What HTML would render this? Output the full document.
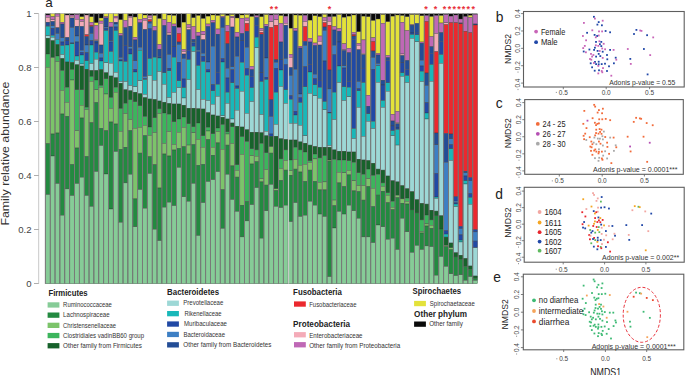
<!DOCTYPE html><html><head><meta charset="utf-8"><style>html,body{margin:0;padding:0;background:#fff;overflow:hidden;width:685px;height:375px;}svg{display:block;}text{font-family:"Liberation Sans",sans-serif;}</style></head><body>
<svg width="685" height="375" viewBox="0 0 685 375">
<rect x="0" y="0" width="685" height="375" fill="#fff"/>
<text x="45.3" y="7.2" font-size="13.5" fill="#222">a</text>
<text transform="translate(9.0,153.6) rotate(-90)" text-anchor="middle" font-size="11" fill="#333" textLength="144" lengthAdjust="spacingAndGlyphs">Family relative abundance</text>
<line x1="38.7" y1="13.8" x2="38.7" y2="283.7" stroke="#c8c8c8" stroke-width="1"/>
<line x1="34" y1="13.50" x2="38.7" y2="13.50" stroke="#999" stroke-width="0.8"/>
<text x="31.6" y="16.90" text-anchor="end" font-size="9.6" fill="#444">1</text>
<line x1="34" y1="67.50" x2="38.7" y2="67.50" stroke="#999" stroke-width="0.8"/>
<text x="31.6" y="70.90" text-anchor="end" font-size="9.6" fill="#444">0.8</text>
<line x1="34" y1="121.50" x2="38.7" y2="121.50" stroke="#999" stroke-width="0.8"/>
<text x="31.6" y="124.90" text-anchor="end" font-size="9.6" fill="#444">0.6</text>
<line x1="34" y1="175.50" x2="38.7" y2="175.50" stroke="#999" stroke-width="0.8"/>
<text x="31.6" y="178.90" text-anchor="end" font-size="9.6" fill="#444">0.4</text>
<line x1="34" y1="229.50" x2="38.7" y2="229.50" stroke="#999" stroke-width="0.8"/>
<text x="31.6" y="232.90" text-anchor="end" font-size="9.6" fill="#444">0.2</text>
<line x1="34" y1="283.50" x2="38.7" y2="283.50" stroke="#999" stroke-width="0.8"/>
<text x="31.6" y="286.90" text-anchor="end" font-size="9.6" fill="#444">0</text>
<g stroke="#333" stroke-width="0.4" stroke-opacity="0.8">
<rect x="45.35" y="13.80" width="4.86" height="1.20" fill="#0a0a0a"/>
<rect x="45.35" y="15.00" width="4.86" height="2.40" fill="#bf68b6"/>
<rect x="45.35" y="17.40" width="4.86" height="4.80" fill="#f4abb8"/>
<rect x="45.35" y="22.20" width="4.86" height="3.00" fill="#234d96"/>
<rect x="45.35" y="25.20" width="4.86" height="1.00" fill="#2149a5"/>
<rect x="45.35" y="26.20" width="4.86" height="9.60" fill="#19b8b9"/>
<rect x="45.35" y="35.80" width="4.86" height="2.40" fill="#9dd8d6"/>
<rect x="45.35" y="38.20" width="4.86" height="15.80" fill="#17622b"/>
<rect x="45.35" y="54.00" width="4.86" height="13.20" fill="#3cb55c"/>
<rect x="45.35" y="67.20" width="4.86" height="76.50" fill="#7cc46a"/>
<rect x="45.35" y="143.70" width="4.86" height="50.90" fill="#238a40"/>
<rect x="45.35" y="194.60" width="4.86" height="89.20" fill="#86cc97"/>
<rect x="50.21" y="13.80" width="4.86" height="3.00" fill="#e3e23a"/>
<rect x="50.21" y="16.80" width="4.86" height="3.00" fill="#bf68b6"/>
<rect x="50.21" y="19.80" width="4.86" height="1.60" fill="#f4abb8"/>
<rect x="50.21" y="21.40" width="4.86" height="4.40" fill="#234d96"/>
<rect x="50.21" y="25.80" width="4.86" height="2.40" fill="#3d7fc4"/>
<rect x="50.21" y="28.20" width="4.86" height="7.20" fill="#2149a5"/>
<rect x="50.21" y="35.40" width="4.86" height="2.00" fill="#19b8b9"/>
<rect x="50.21" y="37.40" width="4.86" height="3.20" fill="#9dd8d6"/>
<rect x="50.21" y="40.60" width="4.86" height="17.00" fill="#17622b"/>
<rect x="50.21" y="57.60" width="4.86" height="76.40" fill="#7cc46a"/>
<rect x="50.21" y="134.00" width="4.86" height="22.00" fill="#238a40"/>
<rect x="50.21" y="156.00" width="4.86" height="127.80" fill="#86cc97"/>
<rect x="55.06" y="13.80" width="4.86" height="0.20" fill="#0a0a0a"/>
<rect x="55.06" y="14.00" width="4.86" height="2.20" fill="#bf68b6"/>
<rect x="55.06" y="16.20" width="4.86" height="11.60" fill="#f4abb8"/>
<rect x="55.06" y="27.80" width="4.86" height="5.80" fill="#234d96"/>
<rect x="55.06" y="33.60" width="4.86" height="5.80" fill="#3d7fc4"/>
<rect x="55.06" y="39.40" width="4.86" height="5.00" fill="#19b8b9"/>
<rect x="55.06" y="44.40" width="4.86" height="11.60" fill="#17622b"/>
<rect x="55.06" y="56.00" width="4.86" height="5.60" fill="#3cb55c"/>
<rect x="55.06" y="61.60" width="4.86" height="71.40" fill="#7cc46a"/>
<rect x="55.06" y="133.00" width="4.86" height="50.60" fill="#238a40"/>
<rect x="55.06" y="183.60" width="4.86" height="100.20" fill="#86cc97"/>
<rect x="59.92" y="13.80" width="4.86" height="8.40" fill="#e3e23a"/>
<rect x="59.92" y="22.20" width="4.86" height="1.80" fill="#bf68b6"/>
<rect x="59.92" y="24.00" width="4.86" height="13.80" fill="#234d96"/>
<rect x="59.92" y="37.80" width="4.86" height="4.20" fill="#3d7fc4"/>
<rect x="59.92" y="42.00" width="4.86" height="3.60" fill="#2149a5"/>
<rect x="59.92" y="45.60" width="4.86" height="9.00" fill="#19b8b9"/>
<rect x="59.92" y="54.60" width="4.86" height="3.80" fill="#9dd8d6"/>
<rect x="59.92" y="58.40" width="4.86" height="12.20" fill="#17622b"/>
<rect x="59.92" y="70.60" width="4.86" height="19.80" fill="#3cb55c"/>
<rect x="59.92" y="90.40" width="4.86" height="23.60" fill="#7cc46a"/>
<rect x="59.92" y="114.00" width="4.86" height="101.30" fill="#238a40"/>
<rect x="59.92" y="215.30" width="4.86" height="68.50" fill="#86cc97"/>
<rect x="64.78" y="13.80" width="4.86" height="1.20" fill="#0a0a0a"/>
<rect x="64.78" y="15.00" width="4.86" height="22.40" fill="#f4abb8"/>
<rect x="64.78" y="37.40" width="4.86" height="3.40" fill="#234d96"/>
<rect x="64.78" y="40.80" width="4.86" height="4.20" fill="#2149a5"/>
<rect x="64.78" y="45.00" width="4.86" height="17.00" fill="#19b8b9"/>
<rect x="64.78" y="62.00" width="4.86" height="25.40" fill="#17622b"/>
<rect x="64.78" y="87.40" width="4.86" height="15.00" fill="#3cb55c"/>
<rect x="64.78" y="102.40" width="4.86" height="13.90" fill="#7cc46a"/>
<rect x="64.78" y="116.30" width="4.86" height="72.60" fill="#238a40"/>
<rect x="64.78" y="188.90" width="4.86" height="94.90" fill="#86cc97"/>
<rect x="69.64" y="13.80" width="4.86" height="1.20" fill="#0a0a0a"/>
<rect x="69.64" y="15.00" width="4.86" height="1.20" fill="#bf68b6"/>
<rect x="69.64" y="16.20" width="4.86" height="1.80" fill="#f4abb8"/>
<rect x="69.64" y="18.00" width="4.86" height="9.60" fill="#234d96"/>
<rect x="69.64" y="27.60" width="4.86" height="15.40" fill="#3d7fc4"/>
<rect x="69.64" y="43.00" width="4.86" height="0.80" fill="#2149a5"/>
<rect x="69.64" y="43.80" width="4.86" height="18.60" fill="#19b8b9"/>
<rect x="69.64" y="62.40" width="4.86" height="7.20" fill="#17622b"/>
<rect x="69.64" y="69.60" width="4.86" height="10.40" fill="#3cb55c"/>
<rect x="69.64" y="80.00" width="4.86" height="84.40" fill="#7cc46a"/>
<rect x="69.64" y="164.40" width="4.86" height="31.20" fill="#238a40"/>
<rect x="69.64" y="195.60" width="4.86" height="88.20" fill="#86cc97"/>
<rect x="74.49" y="13.80" width="4.86" height="0.80" fill="#0a0a0a"/>
<rect x="74.49" y="14.60" width="4.86" height="4.80" fill="#bf68b6"/>
<rect x="74.49" y="19.40" width="4.86" height="6.80" fill="#f4abb8"/>
<rect x="74.49" y="26.20" width="4.86" height="9.80" fill="#234d96"/>
<rect x="74.49" y="36.00" width="4.86" height="6.00" fill="#3d7fc4"/>
<rect x="74.49" y="42.00" width="4.86" height="14.00" fill="#2149a5"/>
<rect x="74.49" y="56.00" width="4.86" height="4.40" fill="#19b8b9"/>
<rect x="74.49" y="60.40" width="4.86" height="4.40" fill="#9dd8d6"/>
<rect x="74.49" y="64.80" width="4.86" height="25.00" fill="#17622b"/>
<rect x="74.49" y="89.80" width="4.86" height="40.90" fill="#3cb55c"/>
<rect x="74.49" y="130.70" width="4.86" height="17.30" fill="#7cc46a"/>
<rect x="74.49" y="148.00" width="4.86" height="35.60" fill="#238a40"/>
<rect x="74.49" y="183.60" width="4.86" height="100.20" fill="#86cc97"/>
<rect x="79.35" y="13.80" width="4.86" height="3.00" fill="#0a0a0a"/>
<rect x="79.35" y="16.80" width="4.86" height="2.60" fill="#e3e23a"/>
<rect x="79.35" y="19.40" width="4.86" height="2.20" fill="#bf68b6"/>
<rect x="79.35" y="21.60" width="4.86" height="4.80" fill="#f4abb8"/>
<rect x="79.35" y="26.40" width="4.86" height="24.00" fill="#234d96"/>
<rect x="79.35" y="50.40" width="4.86" height="1.80" fill="#3d7fc4"/>
<rect x="79.35" y="52.20" width="4.86" height="2.80" fill="#2149a5"/>
<rect x="79.35" y="55.00" width="4.86" height="9.00" fill="#19b8b9"/>
<rect x="79.35" y="64.00" width="4.86" height="2.00" fill="#9dd8d6"/>
<rect x="79.35" y="66.00" width="4.86" height="23.80" fill="#17622b"/>
<rect x="79.35" y="89.80" width="4.86" height="15.50" fill="#3cb55c"/>
<rect x="79.35" y="105.30" width="4.86" height="12.70" fill="#7cc46a"/>
<rect x="79.35" y="118.00" width="4.86" height="59.30" fill="#238a40"/>
<rect x="79.35" y="177.30" width="4.86" height="106.50" fill="#86cc97"/>
<rect x="84.21" y="13.80" width="4.86" height="1.20" fill="#0a0a0a"/>
<rect x="84.21" y="15.00" width="4.86" height="19.80" fill="#f4abb8"/>
<rect x="84.21" y="34.80" width="4.86" height="1.80" fill="#eb282e"/>
<rect x="84.21" y="36.60" width="4.86" height="8.40" fill="#234d96"/>
<rect x="84.21" y="45.00" width="4.86" height="7.80" fill="#3d7fc4"/>
<rect x="84.21" y="52.80" width="4.86" height="8.00" fill="#2149a5"/>
<rect x="84.21" y="60.80" width="4.86" height="8.40" fill="#19b8b9"/>
<rect x="84.21" y="69.20" width="4.86" height="38.00" fill="#17622b"/>
<rect x="84.21" y="107.20" width="4.86" height="2.40" fill="#3cb55c"/>
<rect x="84.21" y="109.60" width="4.86" height="46.80" fill="#7cc46a"/>
<rect x="84.21" y="156.40" width="4.86" height="39.20" fill="#238a40"/>
<rect x="84.21" y="195.60" width="4.86" height="88.20" fill="#86cc97"/>
<rect x="89.06" y="13.80" width="4.86" height="3.00" fill="#0a0a0a"/>
<rect x="89.06" y="16.80" width="4.86" height="5.40" fill="#e3e23a"/>
<rect x="89.06" y="22.20" width="4.86" height="3.00" fill="#bf68b6"/>
<rect x="89.06" y="25.20" width="4.86" height="1.40" fill="#eb282e"/>
<rect x="89.06" y="26.60" width="4.86" height="7.00" fill="#234d96"/>
<rect x="89.06" y="33.60" width="4.86" height="7.20" fill="#3d7fc4"/>
<rect x="89.06" y="40.80" width="4.86" height="4.20" fill="#2149a5"/>
<rect x="89.06" y="45.00" width="4.86" height="18.60" fill="#19b8b9"/>
<rect x="89.06" y="63.60" width="4.86" height="6.80" fill="#9dd8d6"/>
<rect x="89.06" y="70.40" width="4.86" height="6.20" fill="#17622b"/>
<rect x="89.06" y="76.60" width="4.86" height="4.80" fill="#3cb55c"/>
<rect x="89.06" y="81.40" width="4.86" height="41.40" fill="#7cc46a"/>
<rect x="89.06" y="122.80" width="4.86" height="83.70" fill="#238a40"/>
<rect x="89.06" y="206.50" width="4.86" height="77.30" fill="#86cc97"/>
<rect x="93.92" y="13.80" width="4.86" height="9.00" fill="#0a0a0a"/>
<rect x="93.92" y="22.80" width="4.86" height="2.60" fill="#e3e23a"/>
<rect x="93.92" y="25.40" width="4.86" height="14.20" fill="#bf68b6"/>
<rect x="93.92" y="39.60" width="4.86" height="1.20" fill="#f4abb8"/>
<rect x="93.92" y="40.80" width="4.86" height="2.20" fill="#234d96"/>
<rect x="93.92" y="43.00" width="4.86" height="9.20" fill="#2149a5"/>
<rect x="93.92" y="52.20" width="4.86" height="7.00" fill="#19b8b9"/>
<rect x="93.92" y="59.20" width="4.86" height="11.20" fill="#9dd8d6"/>
<rect x="93.92" y="70.40" width="4.86" height="9.60" fill="#17622b"/>
<rect x="93.92" y="80.00" width="4.86" height="9.80" fill="#3cb55c"/>
<rect x="93.92" y="89.80" width="4.86" height="12.60" fill="#7cc46a"/>
<rect x="93.92" y="102.40" width="4.86" height="69.20" fill="#238a40"/>
<rect x="93.92" y="171.60" width="4.86" height="112.20" fill="#86cc97"/>
<rect x="98.78" y="13.80" width="4.86" height="4.20" fill="#0a0a0a"/>
<rect x="98.78" y="18.00" width="4.86" height="3.00" fill="#e3e23a"/>
<rect x="98.78" y="21.00" width="4.86" height="2.40" fill="#bf68b6"/>
<rect x="98.78" y="23.40" width="4.86" height="21.60" fill="#f4abb8"/>
<rect x="98.78" y="45.00" width="4.86" height="8.40" fill="#234d96"/>
<rect x="98.78" y="53.40" width="4.86" height="4.60" fill="#3d7fc4"/>
<rect x="98.78" y="58.00" width="4.86" height="3.00" fill="#2149a5"/>
<rect x="98.78" y="61.00" width="4.86" height="8.60" fill="#19b8b9"/>
<rect x="98.78" y="69.60" width="4.86" height="16.00" fill="#17622b"/>
<rect x="98.78" y="85.60" width="4.86" height="1.80" fill="#3cb55c"/>
<rect x="98.78" y="87.40" width="4.86" height="40.90" fill="#7cc46a"/>
<rect x="98.78" y="128.30" width="4.86" height="17.30" fill="#238a40"/>
<rect x="98.78" y="145.60" width="4.86" height="138.20" fill="#86cc97"/>
<rect x="103.63" y="13.80" width="4.86" height="3.00" fill="#e3e23a"/>
<rect x="103.63" y="16.80" width="4.86" height="1.20" fill="#bf68b6"/>
<rect x="103.63" y="18.00" width="4.86" height="9.00" fill="#234d96"/>
<rect x="103.63" y="27.00" width="4.86" height="1.20" fill="#3d7fc4"/>
<rect x="103.63" y="28.20" width="4.86" height="2.40" fill="#2149a5"/>
<rect x="103.63" y="30.60" width="4.86" height="32.20" fill="#19b8b9"/>
<rect x="103.63" y="62.80" width="4.86" height="10.00" fill="#9dd8d6"/>
<rect x="103.63" y="72.80" width="4.86" height="6.00" fill="#17622b"/>
<rect x="103.63" y="78.80" width="4.86" height="15.20" fill="#3cb55c"/>
<rect x="103.63" y="94.00" width="4.86" height="36.70" fill="#7cc46a"/>
<rect x="103.63" y="130.70" width="4.86" height="43.30" fill="#238a40"/>
<rect x="103.63" y="174.00" width="4.86" height="109.80" fill="#86cc97"/>
<rect x="108.49" y="13.80" width="4.86" height="8.40" fill="#e3e23a"/>
<rect x="108.49" y="22.20" width="4.86" height="4.80" fill="#bf68b6"/>
<rect x="108.49" y="27.00" width="4.86" height="13.80" fill="#234d96"/>
<rect x="108.49" y="40.80" width="4.86" height="1.20" fill="#3d7fc4"/>
<rect x="108.49" y="42.00" width="4.86" height="9.60" fill="#2149a5"/>
<rect x="108.49" y="51.60" width="4.86" height="11.60" fill="#19b8b9"/>
<rect x="108.49" y="63.20" width="4.86" height="12.80" fill="#9dd8d6"/>
<rect x="108.49" y="76.00" width="4.86" height="21.60" fill="#17622b"/>
<rect x="108.49" y="97.60" width="4.86" height="10.80" fill="#3cb55c"/>
<rect x="108.49" y="108.40" width="4.86" height="13.60" fill="#7cc46a"/>
<rect x="108.49" y="122.00" width="4.86" height="87.00" fill="#238a40"/>
<rect x="108.49" y="209.00" width="4.86" height="74.80" fill="#86cc97"/>
<rect x="113.35" y="13.80" width="4.86" height="2.40" fill="#e3e23a"/>
<rect x="113.35" y="16.20" width="4.86" height="1.80" fill="#bf68b6"/>
<rect x="113.35" y="18.00" width="4.86" height="4.20" fill="#f4abb8"/>
<rect x="113.35" y="22.20" width="4.86" height="1.80" fill="#234d96"/>
<rect x="113.35" y="24.00" width="4.86" height="3.00" fill="#3d7fc4"/>
<rect x="113.35" y="27.00" width="4.86" height="3.60" fill="#2149a5"/>
<rect x="113.35" y="30.60" width="4.86" height="41.80" fill="#19b8b9"/>
<rect x="113.35" y="72.40" width="4.86" height="5.40" fill="#9dd8d6"/>
<rect x="113.35" y="77.80" width="4.86" height="9.60" fill="#17622b"/>
<rect x="113.35" y="87.40" width="4.86" height="4.80" fill="#3cb55c"/>
<rect x="113.35" y="92.20" width="4.86" height="31.80" fill="#7cc46a"/>
<rect x="113.35" y="124.00" width="4.86" height="27.60" fill="#238a40"/>
<rect x="113.35" y="151.60" width="4.86" height="132.20" fill="#86cc97"/>
<rect x="118.21" y="13.80" width="4.86" height="6.00" fill="#0a0a0a"/>
<rect x="118.21" y="19.80" width="4.86" height="13.80" fill="#e3e23a"/>
<rect x="118.21" y="33.60" width="4.86" height="2.20" fill="#bf68b6"/>
<rect x="118.21" y="35.80" width="4.86" height="21.80" fill="#234d96"/>
<rect x="118.21" y="57.60" width="4.86" height="2.00" fill="#3d7fc4"/>
<rect x="118.21" y="59.60" width="4.86" height="1.40" fill="#2149a5"/>
<rect x="118.21" y="61.00" width="4.86" height="20.60" fill="#19b8b9"/>
<rect x="118.21" y="81.60" width="4.86" height="1.60" fill="#9dd8d6"/>
<rect x="118.21" y="83.20" width="4.86" height="25.40" fill="#17622b"/>
<rect x="118.21" y="108.60" width="4.86" height="22.80" fill="#3cb55c"/>
<rect x="118.21" y="131.40" width="4.86" height="17.90" fill="#7cc46a"/>
<rect x="118.21" y="149.30" width="4.86" height="73.10" fill="#238a40"/>
<rect x="118.21" y="222.40" width="4.86" height="61.40" fill="#86cc97"/>
<rect x="123.06" y="13.80" width="4.86" height="6.60" fill="#e3e23a"/>
<rect x="123.06" y="20.40" width="4.86" height="7.20" fill="#bf68b6"/>
<rect x="123.06" y="27.60" width="4.86" height="18.00" fill="#234d96"/>
<rect x="123.06" y="45.60" width="4.86" height="16.00" fill="#2149a5"/>
<rect x="123.06" y="61.60" width="4.86" height="20.00" fill="#19b8b9"/>
<rect x="123.06" y="81.60" width="4.86" height="8.20" fill="#9dd8d6"/>
<rect x="123.06" y="89.80" width="4.86" height="13.60" fill="#17622b"/>
<rect x="123.06" y="103.40" width="4.86" height="10.20" fill="#3cb55c"/>
<rect x="123.06" y="113.60" width="4.86" height="33.60" fill="#7cc46a"/>
<rect x="123.06" y="147.20" width="4.86" height="35.70" fill="#238a40"/>
<rect x="123.06" y="182.90" width="4.86" height="100.90" fill="#86cc97"/>
<rect x="127.92" y="13.80" width="4.86" height="2.40" fill="#0a0a0a"/>
<rect x="127.92" y="16.20" width="4.86" height="1.20" fill="#bf68b6"/>
<rect x="127.92" y="17.40" width="4.86" height="8.80" fill="#f4abb8"/>
<rect x="127.92" y="26.20" width="4.86" height="20.60" fill="#234d96"/>
<rect x="127.92" y="46.80" width="4.86" height="2.20" fill="#3d7fc4"/>
<rect x="127.92" y="49.00" width="4.86" height="5.00" fill="#2149a5"/>
<rect x="127.92" y="54.00" width="4.86" height="31.60" fill="#19b8b9"/>
<rect x="127.92" y="85.60" width="4.86" height="5.20" fill="#9dd8d6"/>
<rect x="127.92" y="90.80" width="4.86" height="9.00" fill="#17622b"/>
<rect x="127.92" y="99.80" width="4.86" height="19.80" fill="#3cb55c"/>
<rect x="127.92" y="119.60" width="4.86" height="10.80" fill="#7cc46a"/>
<rect x="127.92" y="130.40" width="4.86" height="44.00" fill="#238a40"/>
<rect x="127.92" y="174.40" width="4.86" height="109.40" fill="#86cc97"/>
<rect x="132.78" y="13.80" width="4.86" height="3.20" fill="#0a0a0a"/>
<rect x="132.78" y="17.00" width="4.86" height="20.20" fill="#e3e23a"/>
<rect x="132.78" y="37.20" width="4.86" height="2.70" fill="#bf68b6"/>
<rect x="132.78" y="39.90" width="4.86" height="20.90" fill="#234d96"/>
<rect x="132.78" y="60.80" width="4.86" height="8.40" fill="#3d7fc4"/>
<rect x="132.78" y="69.20" width="4.86" height="2.80" fill="#2149a5"/>
<rect x="132.78" y="72.00" width="4.86" height="14.80" fill="#19b8b9"/>
<rect x="132.78" y="86.80" width="4.86" height="5.40" fill="#9dd8d6"/>
<rect x="132.78" y="92.20" width="4.86" height="9.60" fill="#17622b"/>
<rect x="132.78" y="101.80" width="4.86" height="26.50" fill="#3cb55c"/>
<rect x="132.78" y="128.30" width="4.86" height="70.60" fill="#7cc46a"/>
<rect x="132.78" y="198.90" width="4.86" height="27.90" fill="#238a40"/>
<rect x="132.78" y="226.80" width="4.86" height="57.00" fill="#86cc97"/>
<rect x="137.63" y="13.80" width="4.86" height="5.60" fill="#e3e23a"/>
<rect x="137.63" y="19.40" width="4.86" height="3.40" fill="#bf68b6"/>
<rect x="137.63" y="22.80" width="4.86" height="24.60" fill="#234d96"/>
<rect x="137.63" y="47.40" width="4.86" height="3.00" fill="#3d7fc4"/>
<rect x="137.63" y="50.40" width="4.86" height="30.40" fill="#19b8b9"/>
<rect x="137.63" y="80.80" width="4.86" height="12.90" fill="#9dd8d6"/>
<rect x="137.63" y="93.70" width="4.86" height="12.10" fill="#17622b"/>
<rect x="137.63" y="105.80" width="4.86" height="21.60" fill="#3cb55c"/>
<rect x="137.63" y="127.40" width="4.86" height="25.70" fill="#7cc46a"/>
<rect x="137.63" y="153.10" width="4.86" height="36.50" fill="#238a40"/>
<rect x="137.63" y="189.60" width="4.86" height="94.20" fill="#86cc97"/>
<rect x="142.49" y="13.80" width="4.86" height="1.20" fill="#0a0a0a"/>
<rect x="142.49" y="15.00" width="4.86" height="3.20" fill="#e3e23a"/>
<rect x="142.49" y="18.20" width="4.86" height="2.20" fill="#bf68b6"/>
<rect x="142.49" y="20.40" width="4.86" height="9.00" fill="#f4abb8"/>
<rect x="142.49" y="29.40" width="4.86" height="47.20" fill="#234d96"/>
<rect x="142.49" y="76.60" width="4.86" height="1.80" fill="#3d7fc4"/>
<rect x="142.49" y="78.40" width="4.86" height="1.20" fill="#2149a5"/>
<rect x="142.49" y="79.60" width="4.86" height="14.80" fill="#19b8b9"/>
<rect x="142.49" y="94.40" width="4.86" height="3.20" fill="#9dd8d6"/>
<rect x="142.49" y="97.60" width="4.86" height="19.00" fill="#17622b"/>
<rect x="142.49" y="116.60" width="4.86" height="8.80" fill="#3cb55c"/>
<rect x="142.49" y="125.40" width="4.86" height="10.10" fill="#7cc46a"/>
<rect x="142.49" y="135.50" width="4.86" height="72.80" fill="#238a40"/>
<rect x="142.49" y="208.30" width="4.86" height="75.50" fill="#86cc97"/>
<rect x="147.35" y="13.80" width="4.86" height="1.80" fill="#0a0a0a"/>
<rect x="147.35" y="15.60" width="4.86" height="1.80" fill="#bf68b6"/>
<rect x="147.35" y="17.40" width="4.86" height="2.40" fill="#f4abb8"/>
<rect x="147.35" y="19.80" width="4.86" height="2.00" fill="#eb282e"/>
<rect x="147.35" y="21.80" width="4.86" height="1.60" fill="#234d96"/>
<rect x="147.35" y="23.40" width="4.86" height="5.40" fill="#3d7fc4"/>
<rect x="147.35" y="28.80" width="4.86" height="29.80" fill="#2149a5"/>
<rect x="147.35" y="58.60" width="4.86" height="17.00" fill="#19b8b9"/>
<rect x="147.35" y="75.60" width="4.86" height="23.40" fill="#9dd8d6"/>
<rect x="147.35" y="99.00" width="4.86" height="28.00" fill="#17622b"/>
<rect x="147.35" y="127.00" width="4.86" height="8.50" fill="#3cb55c"/>
<rect x="147.35" y="135.50" width="4.86" height="21.30" fill="#7cc46a"/>
<rect x="147.35" y="156.80" width="4.86" height="16.80" fill="#238a40"/>
<rect x="147.35" y="173.60" width="4.86" height="110.20" fill="#86cc97"/>
<rect x="152.20" y="13.80" width="4.86" height="1.80" fill="#0a0a0a"/>
<rect x="152.20" y="15.60" width="4.86" height="10.80" fill="#e3e23a"/>
<rect x="152.20" y="26.40" width="4.86" height="4.20" fill="#bf68b6"/>
<rect x="152.20" y="30.60" width="4.86" height="26.60" fill="#234d96"/>
<rect x="152.20" y="57.20" width="4.86" height="23.20" fill="#19b8b9"/>
<rect x="152.20" y="80.40" width="4.86" height="19.00" fill="#9dd8d6"/>
<rect x="152.20" y="99.40" width="4.86" height="18.40" fill="#17622b"/>
<rect x="152.20" y="117.80" width="4.86" height="14.80" fill="#3cb55c"/>
<rect x="152.20" y="132.60" width="4.86" height="32.20" fill="#7cc46a"/>
<rect x="152.20" y="164.80" width="4.86" height="64.50" fill="#238a40"/>
<rect x="152.20" y="229.30" width="4.86" height="54.50" fill="#86cc97"/>
<rect x="157.06" y="13.80" width="4.86" height="4.80" fill="#0a0a0a"/>
<rect x="157.06" y="18.60" width="4.86" height="25.80" fill="#e3e23a"/>
<rect x="157.06" y="44.40" width="4.86" height="4.80" fill="#bf68b6"/>
<rect x="157.06" y="49.20" width="4.86" height="7.20" fill="#234d96"/>
<rect x="157.06" y="56.40" width="4.86" height="1.60" fill="#2149a5"/>
<rect x="157.06" y="58.00" width="4.86" height="13.60" fill="#19b8b9"/>
<rect x="157.06" y="71.60" width="4.86" height="29.40" fill="#9dd8d6"/>
<rect x="157.06" y="101.00" width="4.86" height="7.80" fill="#17622b"/>
<rect x="157.06" y="108.80" width="4.86" height="4.80" fill="#3cb55c"/>
<rect x="157.06" y="113.60" width="4.86" height="74.40" fill="#7cc46a"/>
<rect x="157.06" y="188.00" width="4.86" height="52.70" fill="#238a40"/>
<rect x="157.06" y="240.70" width="4.86" height="43.10" fill="#86cc97"/>
<rect x="161.92" y="13.80" width="4.86" height="6.00" fill="#e3e23a"/>
<rect x="161.92" y="19.80" width="4.86" height="5.60" fill="#bf68b6"/>
<rect x="161.92" y="25.40" width="4.86" height="47.40" fill="#234d96"/>
<rect x="161.92" y="72.80" width="4.86" height="11.60" fill="#19b8b9"/>
<rect x="161.92" y="84.40" width="4.86" height="17.80" fill="#9dd8d6"/>
<rect x="161.92" y="102.20" width="4.86" height="10.80" fill="#17622b"/>
<rect x="161.92" y="113.00" width="4.86" height="30.50" fill="#3cb55c"/>
<rect x="161.92" y="143.50" width="4.86" height="10.50" fill="#7cc46a"/>
<rect x="161.92" y="154.00" width="4.86" height="53.20" fill="#238a40"/>
<rect x="161.92" y="207.20" width="4.86" height="76.60" fill="#86cc97"/>
<rect x="166.78" y="13.80" width="4.86" height="1.20" fill="#0a0a0a"/>
<rect x="166.78" y="15.00" width="4.86" height="7.20" fill="#e3e23a"/>
<rect x="166.78" y="22.20" width="4.86" height="10.80" fill="#bf68b6"/>
<rect x="166.78" y="33.00" width="4.86" height="2.00" fill="#f4abb8"/>
<rect x="166.78" y="35.00" width="4.86" height="19.60" fill="#234d96"/>
<rect x="166.78" y="54.60" width="4.86" height="13.60" fill="#3d7fc4"/>
<rect x="166.78" y="68.20" width="4.86" height="2.60" fill="#2149a5"/>
<rect x="166.78" y="70.80" width="4.86" height="26.80" fill="#19b8b9"/>
<rect x="166.78" y="97.60" width="4.86" height="5.80" fill="#9dd8d6"/>
<rect x="166.78" y="103.40" width="4.86" height="10.80" fill="#17622b"/>
<rect x="166.78" y="114.20" width="4.86" height="17.40" fill="#3cb55c"/>
<rect x="166.78" y="131.60" width="4.86" height="24.40" fill="#7cc46a"/>
<rect x="166.78" y="156.00" width="4.86" height="46.20" fill="#238a40"/>
<rect x="166.78" y="202.20" width="4.86" height="81.60" fill="#86cc97"/>
<rect x="171.63" y="13.80" width="4.86" height="1.80" fill="#0a0a0a"/>
<rect x="171.63" y="15.60" width="4.86" height="8.40" fill="#e3e23a"/>
<rect x="171.63" y="24.00" width="4.86" height="2.20" fill="#bf68b6"/>
<rect x="171.63" y="26.20" width="4.86" height="20.60" fill="#234d96"/>
<rect x="171.63" y="46.80" width="4.86" height="10.40" fill="#2149a5"/>
<rect x="171.63" y="57.20" width="4.86" height="35.30" fill="#19b8b9"/>
<rect x="171.63" y="92.50" width="4.86" height="11.50" fill="#9dd8d6"/>
<rect x="171.63" y="104.00" width="4.86" height="17.80" fill="#17622b"/>
<rect x="171.63" y="121.80" width="4.86" height="22.70" fill="#3cb55c"/>
<rect x="171.63" y="144.50" width="4.86" height="5.50" fill="#7cc46a"/>
<rect x="171.63" y="150.00" width="4.86" height="55.70" fill="#238a40"/>
<rect x="171.63" y="205.70" width="4.86" height="78.10" fill="#86cc97"/>
<rect x="176.49" y="13.80" width="4.86" height="13.80" fill="#0a0a0a"/>
<rect x="176.49" y="27.60" width="4.86" height="5.80" fill="#bf68b6"/>
<rect x="176.49" y="33.40" width="4.86" height="8.60" fill="#eb282e"/>
<rect x="176.49" y="42.00" width="4.86" height="2.60" fill="#234d96"/>
<rect x="176.49" y="44.60" width="4.86" height="17.60" fill="#3d7fc4"/>
<rect x="176.49" y="62.20" width="4.86" height="18.60" fill="#2149a5"/>
<rect x="176.49" y="80.80" width="4.86" height="6.90" fill="#19b8b9"/>
<rect x="176.49" y="87.70" width="4.86" height="16.30" fill="#9dd8d6"/>
<rect x="176.49" y="104.00" width="4.86" height="15.00" fill="#17622b"/>
<rect x="176.49" y="119.00" width="4.86" height="13.20" fill="#3cb55c"/>
<rect x="176.49" y="132.20" width="4.86" height="16.10" fill="#7cc46a"/>
<rect x="176.49" y="148.30" width="4.86" height="19.20" fill="#238a40"/>
<rect x="176.49" y="167.50" width="4.86" height="116.30" fill="#86cc97"/>
<rect x="181.35" y="13.80" width="4.86" height="8.40" fill="#0a0a0a"/>
<rect x="181.35" y="22.20" width="4.86" height="27.30" fill="#e3e23a"/>
<rect x="181.35" y="49.50" width="4.86" height="2.10" fill="#bf68b6"/>
<rect x="181.35" y="51.60" width="4.86" height="2.40" fill="#f4abb8"/>
<rect x="181.35" y="54.00" width="4.86" height="4.60" fill="#234d96"/>
<rect x="181.35" y="58.60" width="4.86" height="20.40" fill="#3d7fc4"/>
<rect x="181.35" y="79.00" width="4.86" height="8.70" fill="#2149a5"/>
<rect x="181.35" y="87.70" width="4.86" height="10.30" fill="#19b8b9"/>
<rect x="181.35" y="98.00" width="4.86" height="7.20" fill="#9dd8d6"/>
<rect x="181.35" y="105.20" width="4.86" height="11.80" fill="#17622b"/>
<rect x="181.35" y="117.00" width="4.86" height="10.40" fill="#3cb55c"/>
<rect x="181.35" y="127.40" width="4.86" height="19.30" fill="#7cc46a"/>
<rect x="181.35" y="146.70" width="4.86" height="50.10" fill="#238a40"/>
<rect x="181.35" y="196.80" width="4.86" height="87.00" fill="#86cc97"/>
<rect x="186.20" y="13.80" width="4.86" height="10.80" fill="#e3e23a"/>
<rect x="186.20" y="24.60" width="4.86" height="3.00" fill="#bf68b6"/>
<rect x="186.20" y="27.60" width="4.86" height="2.20" fill="#f4abb8"/>
<rect x="186.20" y="29.80" width="4.86" height="20.60" fill="#234d96"/>
<rect x="186.20" y="50.40" width="4.86" height="9.20" fill="#2149a5"/>
<rect x="186.20" y="59.60" width="4.86" height="20.00" fill="#19b8b9"/>
<rect x="186.20" y="79.60" width="4.86" height="28.60" fill="#9dd8d6"/>
<rect x="186.20" y="108.20" width="4.86" height="15.60" fill="#17622b"/>
<rect x="186.20" y="123.80" width="4.86" height="21.30" fill="#3cb55c"/>
<rect x="186.20" y="145.10" width="4.86" height="8.90" fill="#7cc46a"/>
<rect x="186.20" y="154.00" width="4.86" height="47.40" fill="#238a40"/>
<rect x="186.20" y="201.40" width="4.86" height="82.40" fill="#86cc97"/>
<rect x="191.06" y="13.80" width="4.86" height="4.00" fill="#0a0a0a"/>
<rect x="191.06" y="17.80" width="4.86" height="8.80" fill="#e3e23a"/>
<rect x="191.06" y="26.60" width="4.86" height="12.80" fill="#bf68b6"/>
<rect x="191.06" y="39.40" width="4.86" height="2.40" fill="#234d96"/>
<rect x="191.06" y="41.80" width="4.86" height="1.20" fill="#3d7fc4"/>
<rect x="191.06" y="43.00" width="4.86" height="3.20" fill="#2149a5"/>
<rect x="191.06" y="46.20" width="4.86" height="5.40" fill="#19b8b9"/>
<rect x="191.06" y="51.60" width="4.86" height="56.60" fill="#9dd8d6"/>
<rect x="191.06" y="108.20" width="4.86" height="18.60" fill="#17622b"/>
<rect x="191.06" y="126.80" width="4.86" height="6.00" fill="#3cb55c"/>
<rect x="191.06" y="132.80" width="4.86" height="11.70" fill="#7cc46a"/>
<rect x="191.06" y="144.50" width="4.86" height="39.00" fill="#238a40"/>
<rect x="191.06" y="183.50" width="4.86" height="100.30" fill="#86cc97"/>
<rect x="195.92" y="13.80" width="4.86" height="1.80" fill="#0a0a0a"/>
<rect x="195.92" y="15.60" width="4.86" height="16.60" fill="#e3e23a"/>
<rect x="195.92" y="32.20" width="4.86" height="3.80" fill="#bf68b6"/>
<rect x="195.92" y="36.00" width="4.86" height="14.40" fill="#234d96"/>
<rect x="195.92" y="50.40" width="4.86" height="1.50" fill="#3d7fc4"/>
<rect x="195.92" y="51.90" width="4.86" height="13.70" fill="#2149a5"/>
<rect x="195.92" y="65.60" width="4.86" height="24.00" fill="#19b8b9"/>
<rect x="195.92" y="89.60" width="4.86" height="19.20" fill="#9dd8d6"/>
<rect x="195.92" y="108.80" width="4.86" height="14.20" fill="#17622b"/>
<rect x="195.92" y="123.00" width="4.86" height="16.40" fill="#3cb55c"/>
<rect x="195.92" y="139.40" width="4.86" height="25.90" fill="#7cc46a"/>
<rect x="195.92" y="165.30" width="4.86" height="70.30" fill="#238a40"/>
<rect x="195.92" y="235.60" width="4.86" height="48.20" fill="#86cc97"/>
<rect x="200.77" y="13.80" width="4.86" height="4.80" fill="#0a0a0a"/>
<rect x="200.77" y="18.60" width="4.86" height="12.60" fill="#e3e23a"/>
<rect x="200.77" y="31.20" width="4.86" height="3.60" fill="#bf68b6"/>
<rect x="200.77" y="34.80" width="4.86" height="5.00" fill="#f4abb8"/>
<rect x="200.77" y="39.80" width="4.86" height="13.60" fill="#234d96"/>
<rect x="200.77" y="53.40" width="4.86" height="2.80" fill="#3d7fc4"/>
<rect x="200.77" y="56.20" width="4.86" height="5.40" fill="#2149a5"/>
<rect x="200.77" y="61.60" width="4.86" height="37.80" fill="#19b8b9"/>
<rect x="200.77" y="99.40" width="4.86" height="9.60" fill="#9dd8d6"/>
<rect x="200.77" y="109.00" width="4.86" height="26.80" fill="#17622b"/>
<rect x="200.77" y="135.80" width="4.86" height="11.40" fill="#3cb55c"/>
<rect x="200.77" y="147.20" width="4.86" height="17.10" fill="#7cc46a"/>
<rect x="200.77" y="164.30" width="4.86" height="38.40" fill="#238a40"/>
<rect x="200.77" y="202.70" width="4.86" height="81.10" fill="#86cc97"/>
<rect x="205.63" y="13.80" width="4.86" height="2.40" fill="#0a0a0a"/>
<rect x="205.63" y="16.20" width="4.86" height="7.80" fill="#e3e23a"/>
<rect x="205.63" y="24.00" width="4.86" height="2.40" fill="#bf68b6"/>
<rect x="205.63" y="26.40" width="4.86" height="35.60" fill="#234d96"/>
<rect x="205.63" y="62.00" width="4.86" height="7.40" fill="#3d7fc4"/>
<rect x="205.63" y="69.40" width="4.86" height="2.60" fill="#2149a5"/>
<rect x="205.63" y="72.00" width="4.86" height="28.60" fill="#19b8b9"/>
<rect x="205.63" y="100.60" width="4.86" height="12.00" fill="#9dd8d6"/>
<rect x="205.63" y="112.60" width="4.86" height="14.80" fill="#17622b"/>
<rect x="205.63" y="127.40" width="4.86" height="3.60" fill="#3cb55c"/>
<rect x="205.63" y="131.00" width="4.86" height="8.40" fill="#7cc46a"/>
<rect x="205.63" y="139.40" width="4.86" height="42.20" fill="#238a40"/>
<rect x="205.63" y="181.60" width="4.86" height="102.20" fill="#86cc97"/>
<rect x="210.49" y="13.80" width="4.86" height="1.20" fill="#0a0a0a"/>
<rect x="210.49" y="15.00" width="4.86" height="5.20" fill="#e3e23a"/>
<rect x="210.49" y="20.20" width="4.86" height="2.60" fill="#bf68b6"/>
<rect x="210.49" y="22.80" width="4.86" height="23.40" fill="#234d96"/>
<rect x="210.49" y="46.20" width="4.86" height="38.60" fill="#3d7fc4"/>
<rect x="210.49" y="84.80" width="4.86" height="6.00" fill="#2149a5"/>
<rect x="210.49" y="90.80" width="4.86" height="13.40" fill="#19b8b9"/>
<rect x="210.49" y="104.20" width="4.86" height="10.80" fill="#9dd8d6"/>
<rect x="210.49" y="115.00" width="4.86" height="18.80" fill="#17622b"/>
<rect x="210.49" y="133.80" width="4.86" height="13.40" fill="#3cb55c"/>
<rect x="210.49" y="147.20" width="4.86" height="8.00" fill="#7cc46a"/>
<rect x="210.49" y="155.20" width="4.86" height="24.50" fill="#238a40"/>
<rect x="210.49" y="179.70" width="4.86" height="104.10" fill="#86cc97"/>
<rect x="215.34" y="13.80" width="4.86" height="1.80" fill="#0a0a0a"/>
<rect x="215.34" y="15.60" width="4.86" height="13.40" fill="#e3e23a"/>
<rect x="215.34" y="29.00" width="4.86" height="5.20" fill="#bf68b6"/>
<rect x="215.34" y="34.20" width="4.86" height="38.20" fill="#234d96"/>
<rect x="215.34" y="72.40" width="4.86" height="12.00" fill="#2149a5"/>
<rect x="215.34" y="84.40" width="4.86" height="12.00" fill="#19b8b9"/>
<rect x="215.34" y="96.40" width="4.86" height="19.60" fill="#9dd8d6"/>
<rect x="215.34" y="116.00" width="4.86" height="12.00" fill="#17622b"/>
<rect x="215.34" y="128.00" width="4.86" height="3.60" fill="#3cb55c"/>
<rect x="215.34" y="131.60" width="4.86" height="11.30" fill="#7cc46a"/>
<rect x="215.34" y="142.90" width="4.86" height="28.80" fill="#238a40"/>
<rect x="215.34" y="171.70" width="4.86" height="112.10" fill="#86cc97"/>
<rect x="220.20" y="13.80" width="4.86" height="0.60" fill="#0a0a0a"/>
<rect x="220.20" y="14.40" width="4.86" height="1.80" fill="#e3e23a"/>
<rect x="220.20" y="16.20" width="4.86" height="1.20" fill="#bf68b6"/>
<rect x="220.20" y="17.40" width="4.86" height="10.20" fill="#234d96"/>
<rect x="220.20" y="27.60" width="4.86" height="30.80" fill="#3d7fc4"/>
<rect x="220.20" y="58.40" width="4.86" height="3.60" fill="#2149a5"/>
<rect x="220.20" y="62.00" width="4.86" height="53.80" fill="#19b8b9"/>
<rect x="220.20" y="115.80" width="4.86" height="1.40" fill="#9dd8d6"/>
<rect x="220.20" y="117.20" width="4.86" height="7.40" fill="#17622b"/>
<rect x="220.20" y="124.60" width="4.86" height="24.70" fill="#3cb55c"/>
<rect x="220.20" y="149.30" width="4.86" height="40.30" fill="#7cc46a"/>
<rect x="220.20" y="189.60" width="4.86" height="38.90" fill="#238a40"/>
<rect x="220.20" y="228.50" width="4.86" height="55.30" fill="#86cc97"/>
<rect x="225.06" y="13.80" width="4.86" height="1.80" fill="#0a0a0a"/>
<rect x="225.06" y="15.60" width="4.86" height="9.80" fill="#e3e23a"/>
<rect x="225.06" y="25.40" width="4.86" height="6.00" fill="#bf68b6"/>
<rect x="225.06" y="31.40" width="4.86" height="12.40" fill="#eb282e"/>
<rect x="225.06" y="43.80" width="4.86" height="24.60" fill="#234d96"/>
<rect x="225.06" y="68.40" width="4.86" height="9.60" fill="#3d7fc4"/>
<rect x="225.06" y="78.00" width="4.86" height="14.20" fill="#2149a5"/>
<rect x="225.06" y="92.20" width="4.86" height="11.20" fill="#19b8b9"/>
<rect x="225.06" y="103.40" width="4.86" height="15.60" fill="#9dd8d6"/>
<rect x="225.06" y="119.00" width="4.86" height="12.90" fill="#17622b"/>
<rect x="225.06" y="131.90" width="4.86" height="2.10" fill="#3cb55c"/>
<rect x="225.06" y="134.00" width="4.86" height="11.10" fill="#7cc46a"/>
<rect x="225.06" y="145.10" width="4.86" height="29.30" fill="#238a40"/>
<rect x="225.06" y="174.40" width="4.86" height="109.40" fill="#86cc97"/>
<rect x="229.92" y="13.80" width="4.86" height="0.80" fill="#0a0a0a"/>
<rect x="229.92" y="14.60" width="4.86" height="1.60" fill="#e3e23a"/>
<rect x="229.92" y="16.20" width="4.86" height="1.60" fill="#bf68b6"/>
<rect x="229.92" y="17.80" width="4.86" height="9.20" fill="#f4abb8"/>
<rect x="229.92" y="27.00" width="4.86" height="39.80" fill="#234d96"/>
<rect x="229.92" y="66.80" width="4.86" height="2.80" fill="#3d7fc4"/>
<rect x="229.92" y="69.60" width="4.86" height="13.20" fill="#2149a5"/>
<rect x="229.92" y="82.80" width="4.86" height="36.20" fill="#19b8b9"/>
<rect x="229.92" y="119.00" width="4.86" height="4.00" fill="#9dd8d6"/>
<rect x="229.92" y="123.00" width="4.86" height="3.80" fill="#17622b"/>
<rect x="229.92" y="126.80" width="4.86" height="16.70" fill="#3cb55c"/>
<rect x="229.92" y="143.50" width="4.86" height="22.40" fill="#7cc46a"/>
<rect x="229.92" y="165.90" width="4.86" height="33.70" fill="#238a40"/>
<rect x="229.92" y="199.60" width="4.86" height="84.20" fill="#86cc97"/>
<rect x="234.77" y="13.80" width="4.86" height="4.20" fill="#0a0a0a"/>
<rect x="234.77" y="18.00" width="4.86" height="14.20" fill="#e3e23a"/>
<rect x="234.77" y="32.20" width="4.86" height="4.80" fill="#bf68b6"/>
<rect x="234.77" y="37.00" width="4.86" height="19.40" fill="#234d96"/>
<rect x="234.77" y="56.40" width="4.86" height="29.60" fill="#3d7fc4"/>
<rect x="234.77" y="86.00" width="4.86" height="2.60" fill="#2149a5"/>
<rect x="234.77" y="88.60" width="4.86" height="21.60" fill="#19b8b9"/>
<rect x="234.77" y="110.20" width="4.86" height="16.00" fill="#9dd8d6"/>
<rect x="234.77" y="126.20" width="4.86" height="38.60" fill="#17622b"/>
<rect x="234.77" y="164.80" width="4.86" height="5.60" fill="#3cb55c"/>
<rect x="234.77" y="170.40" width="4.86" height="6.70" fill="#7cc46a"/>
<rect x="234.77" y="177.10" width="4.86" height="34.40" fill="#238a40"/>
<rect x="234.77" y="211.50" width="4.86" height="72.30" fill="#86cc97"/>
<rect x="239.63" y="13.80" width="4.86" height="1.20" fill="#0a0a0a"/>
<rect x="239.63" y="15.00" width="4.86" height="3.20" fill="#e3e23a"/>
<rect x="239.63" y="18.20" width="4.86" height="15.20" fill="#bf68b6"/>
<rect x="239.63" y="33.40" width="4.86" height="7.40" fill="#234d96"/>
<rect x="239.63" y="40.80" width="4.86" height="21.60" fill="#2149a5"/>
<rect x="239.63" y="62.40" width="4.86" height="28.90" fill="#19b8b9"/>
<rect x="239.63" y="91.30" width="4.86" height="35.70" fill="#9dd8d6"/>
<rect x="239.63" y="127.00" width="4.86" height="9.70" fill="#17622b"/>
<rect x="239.63" y="136.70" width="4.86" height="17.70" fill="#3cb55c"/>
<rect x="239.63" y="154.40" width="4.86" height="50.80" fill="#7cc46a"/>
<rect x="239.63" y="205.20" width="4.86" height="31.70" fill="#238a40"/>
<rect x="239.63" y="236.90" width="4.86" height="46.90" fill="#86cc97"/>
<rect x="244.49" y="13.80" width="4.86" height="0.80" fill="#0a0a0a"/>
<rect x="244.49" y="14.60" width="4.86" height="3.40" fill="#e3e23a"/>
<rect x="244.49" y="18.00" width="4.86" height="2.60" fill="#bf68b6"/>
<rect x="244.49" y="20.60" width="4.86" height="2.80" fill="#f4abb8"/>
<rect x="244.49" y="23.40" width="4.86" height="7.80" fill="#eb282e"/>
<rect x="244.49" y="31.20" width="4.86" height="16.20" fill="#234d96"/>
<rect x="244.49" y="47.40" width="4.86" height="21.40" fill="#3d7fc4"/>
<rect x="244.49" y="68.80" width="4.86" height="6.40" fill="#2149a5"/>
<rect x="244.49" y="75.20" width="4.86" height="38.20" fill="#19b8b9"/>
<rect x="244.49" y="113.40" width="4.86" height="16.40" fill="#9dd8d6"/>
<rect x="244.49" y="129.80" width="4.86" height="11.80" fill="#17622b"/>
<rect x="244.49" y="141.60" width="4.86" height="59.80" fill="#3cb55c"/>
<rect x="244.49" y="201.40" width="4.86" height="19.50" fill="#238a40"/>
<rect x="244.49" y="220.90" width="4.86" height="62.90" fill="#86cc97"/>
<rect x="249.34" y="13.80" width="4.86" height="2.80" fill="#0a0a0a"/>
<rect x="249.34" y="16.60" width="4.86" height="49.80" fill="#e3e23a"/>
<rect x="249.34" y="66.40" width="4.86" height="3.20" fill="#bf68b6"/>
<rect x="249.34" y="69.60" width="4.86" height="6.80" fill="#234d96"/>
<rect x="249.34" y="76.40" width="4.86" height="11.30" fill="#2149a5"/>
<rect x="249.34" y="87.70" width="4.86" height="13.90" fill="#19b8b9"/>
<rect x="249.34" y="101.60" width="4.86" height="30.60" fill="#9dd8d6"/>
<rect x="249.34" y="132.20" width="4.86" height="16.60" fill="#17622b"/>
<rect x="249.34" y="148.80" width="4.86" height="6.90" fill="#3cb55c"/>
<rect x="249.34" y="155.70" width="4.86" height="8.30" fill="#7cc46a"/>
<rect x="249.34" y="164.00" width="4.86" height="40.70" fill="#238a40"/>
<rect x="249.34" y="204.70" width="4.86" height="79.10" fill="#86cc97"/>
<rect x="254.20" y="13.80" width="4.86" height="1.80" fill="#0a0a0a"/>
<rect x="254.20" y="15.60" width="4.86" height="1.80" fill="#bf68b6"/>
<rect x="254.20" y="17.40" width="4.86" height="8.00" fill="#234d96"/>
<rect x="254.20" y="25.40" width="4.86" height="11.80" fill="#2149a5"/>
<rect x="254.20" y="37.20" width="4.86" height="10.60" fill="#19b8b9"/>
<rect x="254.20" y="47.80" width="4.86" height="84.40" fill="#9dd8d6"/>
<rect x="254.20" y="132.20" width="4.86" height="17.70" fill="#17622b"/>
<rect x="254.20" y="149.90" width="4.86" height="6.40" fill="#3cb55c"/>
<rect x="254.20" y="156.30" width="4.86" height="5.30" fill="#7cc46a"/>
<rect x="254.20" y="161.60" width="4.86" height="26.10" fill="#238a40"/>
<rect x="254.20" y="187.70" width="4.86" height="96.10" fill="#86cc97"/>
<rect x="259.06" y="13.80" width="4.86" height="3.00" fill="#0a0a0a"/>
<rect x="259.06" y="16.80" width="4.86" height="11.40" fill="#e3e23a"/>
<rect x="259.06" y="28.20" width="4.86" height="2.40" fill="#bf68b6"/>
<rect x="259.06" y="30.60" width="4.86" height="1.80" fill="#f4abb8"/>
<rect x="259.06" y="32.40" width="4.86" height="1.80" fill="#eb282e"/>
<rect x="259.06" y="34.20" width="4.86" height="38.60" fill="#234d96"/>
<rect x="259.06" y="72.80" width="4.86" height="8.80" fill="#2149a5"/>
<rect x="259.06" y="81.60" width="4.86" height="33.00" fill="#19b8b9"/>
<rect x="259.06" y="114.60" width="4.86" height="18.20" fill="#9dd8d6"/>
<rect x="259.06" y="132.80" width="4.86" height="10.70" fill="#17622b"/>
<rect x="259.06" y="143.50" width="4.86" height="35.20" fill="#3cb55c"/>
<rect x="259.06" y="178.70" width="4.86" height="3.20" fill="#7cc46a"/>
<rect x="259.06" y="181.90" width="4.86" height="56.30" fill="#238a40"/>
<rect x="259.06" y="238.20" width="4.86" height="45.60" fill="#86cc97"/>
<rect x="263.92" y="13.80" width="4.86" height="0.80" fill="#0a0a0a"/>
<rect x="263.92" y="14.60" width="4.86" height="9.60" fill="#e3e23a"/>
<rect x="263.92" y="24.20" width="4.86" height="2.00" fill="#bf68b6"/>
<rect x="263.92" y="26.20" width="4.86" height="31.80" fill="#234d96"/>
<rect x="263.92" y="58.00" width="4.86" height="19.20" fill="#3d7fc4"/>
<rect x="263.92" y="77.20" width="4.86" height="2.40" fill="#2149a5"/>
<rect x="263.92" y="79.60" width="4.86" height="51.80" fill="#19b8b9"/>
<rect x="263.92" y="131.40" width="4.86" height="4.40" fill="#9dd8d6"/>
<rect x="263.92" y="135.80" width="4.86" height="17.00" fill="#17622b"/>
<rect x="263.92" y="152.80" width="4.86" height="16.80" fill="#3cb55c"/>
<rect x="263.92" y="169.60" width="4.86" height="15.50" fill="#7cc46a"/>
<rect x="263.92" y="185.10" width="4.86" height="25.70" fill="#238a40"/>
<rect x="263.92" y="210.80" width="4.86" height="73.00" fill="#86cc97"/>
<rect x="268.77" y="13.80" width="4.86" height="1.20" fill="#0a0a0a"/>
<rect x="268.77" y="15.00" width="4.86" height="6.80" fill="#bf68b6"/>
<rect x="268.77" y="21.80" width="4.86" height="5.60" fill="#f4abb8"/>
<rect x="268.77" y="27.40" width="4.86" height="72.40" fill="#eb282e"/>
<rect x="268.77" y="99.80" width="4.86" height="16.80" fill="#234d96"/>
<rect x="268.77" y="116.60" width="4.86" height="17.40" fill="#3d7fc4"/>
<rect x="268.77" y="134.00" width="4.86" height="2.20" fill="#2149a5"/>
<rect x="268.77" y="136.20" width="4.86" height="10.50" fill="#17622b"/>
<rect x="268.77" y="146.70" width="4.86" height="6.40" fill="#7cc46a"/>
<rect x="268.77" y="153.10" width="4.86" height="31.40" fill="#238a40"/>
<rect x="268.77" y="184.50" width="4.86" height="99.30" fill="#86cc97"/>
<rect x="273.63" y="13.80" width="4.86" height="0.80" fill="#0a0a0a"/>
<rect x="273.63" y="14.60" width="4.86" height="5.20" fill="#bf68b6"/>
<rect x="273.63" y="19.80" width="4.86" height="5.40" fill="#f4abb8"/>
<rect x="273.63" y="25.20" width="4.86" height="34.60" fill="#eb282e"/>
<rect x="273.63" y="59.80" width="4.86" height="2.60" fill="#234d96"/>
<rect x="273.63" y="62.40" width="4.86" height="5.80" fill="#3d7fc4"/>
<rect x="273.63" y="68.20" width="4.86" height="24.00" fill="#2149a5"/>
<rect x="273.63" y="92.20" width="4.86" height="32.20" fill="#19b8b9"/>
<rect x="273.63" y="124.40" width="4.86" height="11.80" fill="#9dd8d6"/>
<rect x="273.63" y="136.20" width="4.86" height="52.60" fill="#17622b"/>
<rect x="273.63" y="188.80" width="4.86" height="1.60" fill="#7cc46a"/>
<rect x="273.63" y="190.40" width="4.86" height="16.10" fill="#238a40"/>
<rect x="273.63" y="206.50" width="4.86" height="77.30" fill="#86cc97"/>
<rect x="278.49" y="13.80" width="4.86" height="1.80" fill="#0a0a0a"/>
<rect x="278.49" y="15.60" width="4.86" height="7.80" fill="#e3e23a"/>
<rect x="278.49" y="23.40" width="4.86" height="18.60" fill="#bf68b6"/>
<rect x="278.49" y="42.00" width="4.86" height="17.80" fill="#234d96"/>
<rect x="278.49" y="59.80" width="4.86" height="10.20" fill="#2149a5"/>
<rect x="278.49" y="70.00" width="4.86" height="16.50" fill="#19b8b9"/>
<rect x="278.49" y="86.50" width="4.86" height="52.30" fill="#9dd8d6"/>
<rect x="278.49" y="138.80" width="4.86" height="20.10" fill="#17622b"/>
<rect x="278.49" y="158.90" width="4.86" height="9.60" fill="#3cb55c"/>
<rect x="278.49" y="168.50" width="4.86" height="11.80" fill="#7cc46a"/>
<rect x="278.49" y="180.30" width="4.86" height="27.40" fill="#238a40"/>
<rect x="278.49" y="207.70" width="4.86" height="76.10" fill="#86cc97"/>
<rect x="283.34" y="13.80" width="4.86" height="2.40" fill="#0a0a0a"/>
<rect x="283.34" y="16.20" width="4.86" height="7.20" fill="#bf68b6"/>
<rect x="283.34" y="23.40" width="4.86" height="1.80" fill="#f4abb8"/>
<rect x="283.34" y="25.20" width="4.86" height="33.40" fill="#234d96"/>
<rect x="283.34" y="58.60" width="4.86" height="5.80" fill="#3d7fc4"/>
<rect x="283.34" y="64.40" width="4.86" height="25.40" fill="#2149a5"/>
<rect x="283.34" y="89.80" width="4.86" height="13.60" fill="#19b8b9"/>
<rect x="283.34" y="103.40" width="4.86" height="36.00" fill="#9dd8d6"/>
<rect x="283.34" y="139.40" width="4.86" height="10.50" fill="#17622b"/>
<rect x="283.34" y="149.90" width="4.86" height="10.60" fill="#3cb55c"/>
<rect x="283.34" y="160.50" width="4.86" height="9.60" fill="#7cc46a"/>
<rect x="283.34" y="170.10" width="4.86" height="35.10" fill="#238a40"/>
<rect x="283.34" y="205.20" width="4.86" height="78.60" fill="#86cc97"/>
<rect x="288.20" y="13.80" width="4.86" height="14.40" fill="#0a0a0a"/>
<rect x="288.20" y="28.20" width="4.86" height="26.10" fill="#e3e23a"/>
<rect x="288.20" y="54.30" width="4.86" height="3.10" fill="#bf68b6"/>
<rect x="288.20" y="57.40" width="4.86" height="10.20" fill="#f4abb8"/>
<rect x="288.20" y="67.60" width="4.86" height="8.00" fill="#234d96"/>
<rect x="288.20" y="75.60" width="4.86" height="20.20" fill="#3d7fc4"/>
<rect x="288.20" y="95.80" width="4.86" height="3.60" fill="#2149a5"/>
<rect x="288.20" y="99.40" width="4.86" height="24.00" fill="#19b8b9"/>
<rect x="288.20" y="123.40" width="4.86" height="16.60" fill="#9dd8d6"/>
<rect x="288.20" y="140.00" width="4.86" height="20.00" fill="#17622b"/>
<rect x="288.20" y="160.00" width="4.86" height="10.70" fill="#3cb55c"/>
<rect x="288.20" y="170.70" width="4.86" height="4.50" fill="#7cc46a"/>
<rect x="288.20" y="175.20" width="4.86" height="46.50" fill="#238a40"/>
<rect x="288.20" y="221.70" width="4.86" height="62.10" fill="#86cc97"/>
<rect x="293.06" y="13.80" width="4.86" height="1.20" fill="#0a0a0a"/>
<rect x="293.06" y="15.00" width="4.86" height="13.20" fill="#e3e23a"/>
<rect x="293.06" y="28.20" width="4.86" height="2.80" fill="#bf68b6"/>
<rect x="293.06" y="31.00" width="4.86" height="38.40" fill="#234d96"/>
<rect x="293.06" y="69.40" width="4.86" height="41.80" fill="#3d7fc4"/>
<rect x="293.06" y="111.20" width="4.86" height="3.80" fill="#2149a5"/>
<rect x="293.06" y="115.00" width="4.86" height="8.40" fill="#19b8b9"/>
<rect x="293.06" y="123.40" width="4.86" height="16.60" fill="#9dd8d6"/>
<rect x="293.06" y="140.00" width="4.86" height="7.20" fill="#17622b"/>
<rect x="293.06" y="147.20" width="4.86" height="12.30" fill="#3cb55c"/>
<rect x="293.06" y="159.50" width="4.86" height="9.60" fill="#7cc46a"/>
<rect x="293.06" y="169.10" width="4.86" height="33.60" fill="#238a40"/>
<rect x="293.06" y="202.70" width="4.86" height="81.10" fill="#86cc97"/>
<rect x="297.91" y="13.80" width="4.86" height="1.60" fill="#0a0a0a"/>
<rect x="297.91" y="15.40" width="4.86" height="30.80" fill="#e3e23a"/>
<rect x="297.91" y="46.20" width="4.86" height="1.80" fill="#bf68b6"/>
<rect x="297.91" y="48.00" width="4.86" height="46.00" fill="#234d96"/>
<rect x="297.91" y="94.00" width="4.86" height="3.60" fill="#3d7fc4"/>
<rect x="297.91" y="97.60" width="4.86" height="5.00" fill="#2149a5"/>
<rect x="297.91" y="102.60" width="4.86" height="22.80" fill="#19b8b9"/>
<rect x="297.91" y="125.40" width="4.86" height="16.50" fill="#9dd8d6"/>
<rect x="297.91" y="141.90" width="4.86" height="8.00" fill="#17622b"/>
<rect x="297.91" y="149.90" width="4.86" height="15.40" fill="#3cb55c"/>
<rect x="297.91" y="165.30" width="4.86" height="6.70" fill="#7cc46a"/>
<rect x="297.91" y="172.00" width="4.86" height="44.60" fill="#238a40"/>
<rect x="297.91" y="216.60" width="4.86" height="67.20" fill="#86cc97"/>
<rect x="302.77" y="13.80" width="4.86" height="1.60" fill="#0a0a0a"/>
<rect x="302.77" y="15.40" width="4.86" height="6.20" fill="#bf68b6"/>
<rect x="302.77" y="21.60" width="4.86" height="5.00" fill="#f4abb8"/>
<rect x="302.77" y="26.60" width="4.86" height="14.80" fill="#eb282e"/>
<rect x="302.77" y="41.40" width="4.86" height="4.20" fill="#234d96"/>
<rect x="302.77" y="45.60" width="4.86" height="21.20" fill="#3d7fc4"/>
<rect x="302.77" y="66.80" width="4.86" height="20.00" fill="#2149a5"/>
<rect x="302.77" y="86.80" width="4.86" height="49.00" fill="#19b8b9"/>
<rect x="302.77" y="135.80" width="4.86" height="7.40" fill="#9dd8d6"/>
<rect x="302.77" y="143.20" width="4.86" height="8.80" fill="#17622b"/>
<rect x="302.77" y="152.00" width="4.86" height="12.30" fill="#3cb55c"/>
<rect x="302.77" y="164.30" width="4.86" height="17.00" fill="#7cc46a"/>
<rect x="302.77" y="181.30" width="4.86" height="34.00" fill="#238a40"/>
<rect x="302.77" y="215.30" width="4.86" height="68.50" fill="#86cc97"/>
<rect x="307.63" y="13.80" width="4.86" height="6.40" fill="#0a0a0a"/>
<rect x="307.63" y="20.20" width="4.86" height="18.00" fill="#e3e23a"/>
<rect x="307.63" y="38.20" width="4.86" height="3.80" fill="#bf68b6"/>
<rect x="307.63" y="42.00" width="4.86" height="22.60" fill="#234d96"/>
<rect x="307.63" y="64.60" width="4.86" height="7.40" fill="#2149a5"/>
<rect x="307.63" y="72.00" width="4.86" height="21.40" fill="#19b8b9"/>
<rect x="307.63" y="93.40" width="4.86" height="51.70" fill="#9dd8d6"/>
<rect x="307.63" y="145.10" width="4.86" height="15.70" fill="#17622b"/>
<rect x="307.63" y="160.80" width="4.86" height="1.60" fill="#3cb55c"/>
<rect x="307.63" y="162.40" width="4.86" height="7.70" fill="#7cc46a"/>
<rect x="307.63" y="170.10" width="4.86" height="31.30" fill="#238a40"/>
<rect x="307.63" y="201.40" width="4.86" height="82.40" fill="#86cc97"/>
<rect x="312.49" y="13.80" width="4.86" height="2.00" fill="#0a0a0a"/>
<rect x="312.49" y="15.80" width="4.86" height="27.20" fill="#e3e23a"/>
<rect x="312.49" y="43.00" width="4.86" height="2.40" fill="#bf68b6"/>
<rect x="312.49" y="45.40" width="4.86" height="28.80" fill="#234d96"/>
<rect x="312.49" y="74.20" width="4.86" height="4.20" fill="#3d7fc4"/>
<rect x="312.49" y="78.40" width="4.86" height="6.40" fill="#2149a5"/>
<rect x="312.49" y="84.80" width="4.86" height="11.00" fill="#19b8b9"/>
<rect x="312.49" y="95.80" width="4.86" height="50.60" fill="#9dd8d6"/>
<rect x="312.49" y="146.40" width="4.86" height="7.70" fill="#17622b"/>
<rect x="312.49" y="154.10" width="4.86" height="4.80" fill="#3cb55c"/>
<rect x="312.49" y="158.90" width="4.86" height="22.40" fill="#7cc46a"/>
<rect x="312.49" y="181.30" width="4.86" height="23.90" fill="#238a40"/>
<rect x="312.49" y="205.20" width="4.86" height="78.60" fill="#86cc97"/>
<rect x="317.34" y="13.80" width="4.86" height="3.00" fill="#0a0a0a"/>
<rect x="317.34" y="16.80" width="4.86" height="19.20" fill="#e3e23a"/>
<rect x="317.34" y="36.00" width="4.86" height="5.40" fill="#bf68b6"/>
<rect x="317.34" y="41.40" width="4.86" height="3.60" fill="#f4abb8"/>
<rect x="317.34" y="45.00" width="4.86" height="35.20" fill="#234d96"/>
<rect x="317.34" y="80.20" width="4.86" height="7.20" fill="#2149a5"/>
<rect x="317.34" y="87.40" width="4.86" height="10.80" fill="#19b8b9"/>
<rect x="317.34" y="98.20" width="4.86" height="49.00" fill="#9dd8d6"/>
<rect x="317.34" y="147.20" width="4.86" height="10.70" fill="#17622b"/>
<rect x="317.34" y="157.90" width="4.86" height="24.50" fill="#3cb55c"/>
<rect x="317.34" y="182.40" width="4.86" height="7.50" fill="#7cc46a"/>
<rect x="317.34" y="189.90" width="4.86" height="24.20" fill="#238a40"/>
<rect x="317.34" y="214.10" width="4.86" height="69.70" fill="#86cc97"/>
<rect x="322.20" y="13.80" width="4.86" height="0.60" fill="#0a0a0a"/>
<rect x="322.20" y="14.40" width="4.86" height="3.00" fill="#e3e23a"/>
<rect x="322.20" y="17.40" width="4.86" height="3.20" fill="#bf68b6"/>
<rect x="322.20" y="20.60" width="4.86" height="2.00" fill="#f4abb8"/>
<rect x="322.20" y="22.60" width="4.86" height="4.40" fill="#eb282e"/>
<rect x="322.20" y="27.00" width="4.86" height="3.60" fill="#234d96"/>
<rect x="322.20" y="30.60" width="4.86" height="30.40" fill="#3d7fc4"/>
<rect x="322.20" y="61.00" width="4.86" height="40.60" fill="#2149a5"/>
<rect x="322.20" y="101.60" width="4.86" height="8.20" fill="#19b8b9"/>
<rect x="322.20" y="109.80" width="4.86" height="37.40" fill="#9dd8d6"/>
<rect x="322.20" y="147.20" width="4.86" height="8.50" fill="#17622b"/>
<rect x="322.20" y="155.70" width="4.86" height="26.20" fill="#3cb55c"/>
<rect x="322.20" y="181.90" width="4.86" height="8.00" fill="#7cc46a"/>
<rect x="322.20" y="189.90" width="4.86" height="26.70" fill="#238a40"/>
<rect x="322.20" y="216.60" width="4.86" height="67.20" fill="#86cc97"/>
<rect x="327.06" y="13.80" width="4.86" height="3.00" fill="#0a0a0a"/>
<rect x="327.06" y="16.80" width="4.86" height="4.60" fill="#bf68b6"/>
<rect x="327.06" y="21.40" width="4.86" height="3.80" fill="#f4abb8"/>
<rect x="327.06" y="25.20" width="4.86" height="44.80" fill="#eb282e"/>
<rect x="327.06" y="70.00" width="4.86" height="18.90" fill="#234d96"/>
<rect x="327.06" y="88.90" width="4.86" height="23.30" fill="#3d7fc4"/>
<rect x="327.06" y="112.20" width="4.86" height="0.80" fill="#2149a5"/>
<rect x="327.06" y="113.00" width="4.86" height="32.60" fill="#19b8b9"/>
<rect x="327.06" y="145.60" width="4.86" height="1.60" fill="#9dd8d6"/>
<rect x="327.06" y="147.20" width="4.86" height="12.80" fill="#17622b"/>
<rect x="327.06" y="160.00" width="4.86" height="1.10" fill="#7cc46a"/>
<rect x="327.06" y="161.10" width="4.86" height="115.60" fill="#238a40"/>
<rect x="327.06" y="276.70" width="4.86" height="7.10" fill="#86cc97"/>
<rect x="331.91" y="13.80" width="4.86" height="2.80" fill="#0a0a0a"/>
<rect x="331.91" y="16.60" width="4.86" height="10.00" fill="#e3e23a"/>
<rect x="331.91" y="26.60" width="4.86" height="3.40" fill="#bf68b6"/>
<rect x="331.91" y="30.00" width="4.86" height="15.40" fill="#234d96"/>
<rect x="331.91" y="45.40" width="4.86" height="9.20" fill="#3d7fc4"/>
<rect x="331.91" y="54.60" width="4.86" height="37.60" fill="#2149a5"/>
<rect x="331.91" y="92.20" width="4.86" height="27.40" fill="#19b8b9"/>
<rect x="331.91" y="119.60" width="4.86" height="30.30" fill="#9dd8d6"/>
<rect x="331.91" y="149.90" width="4.86" height="9.60" fill="#17622b"/>
<rect x="331.91" y="159.50" width="4.86" height="40.60" fill="#3cb55c"/>
<rect x="331.91" y="200.10" width="4.86" height="5.60" fill="#7cc46a"/>
<rect x="331.91" y="205.70" width="4.86" height="22.30" fill="#238a40"/>
<rect x="331.91" y="228.00" width="4.86" height="55.80" fill="#86cc97"/>
<rect x="336.77" y="13.80" width="4.86" height="0.80" fill="#0a0a0a"/>
<rect x="336.77" y="14.60" width="4.86" height="14.00" fill="#e3e23a"/>
<rect x="336.77" y="28.60" width="4.86" height="2.60" fill="#bf68b6"/>
<rect x="336.77" y="31.20" width="4.86" height="10.80" fill="#234d96"/>
<rect x="336.77" y="42.00" width="4.86" height="24.00" fill="#2149a5"/>
<rect x="336.77" y="66.00" width="4.86" height="16.60" fill="#19b8b9"/>
<rect x="336.77" y="82.60" width="4.86" height="68.60" fill="#9dd8d6"/>
<rect x="336.77" y="151.20" width="4.86" height="8.80" fill="#17622b"/>
<rect x="336.77" y="160.00" width="4.86" height="12.30" fill="#3cb55c"/>
<rect x="336.77" y="172.30" width="4.86" height="10.60" fill="#7cc46a"/>
<rect x="336.77" y="182.90" width="4.86" height="28.60" fill="#238a40"/>
<rect x="336.77" y="211.50" width="4.86" height="72.30" fill="#86cc97"/>
<rect x="341.63" y="13.80" width="4.86" height="3.60" fill="#0a0a0a"/>
<rect x="341.63" y="17.40" width="4.86" height="26.40" fill="#e3e23a"/>
<rect x="341.63" y="43.80" width="4.86" height="6.00" fill="#bf68b6"/>
<rect x="341.63" y="49.80" width="4.86" height="0.60" fill="#f4abb8"/>
<rect x="341.63" y="50.40" width="4.86" height="15.40" fill="#234d96"/>
<rect x="341.63" y="65.80" width="4.86" height="2.20" fill="#3d7fc4"/>
<rect x="341.63" y="68.00" width="4.86" height="18.80" fill="#2149a5"/>
<rect x="341.63" y="86.80" width="4.86" height="13.80" fill="#19b8b9"/>
<rect x="341.63" y="100.60" width="4.86" height="50.60" fill="#9dd8d6"/>
<rect x="341.63" y="151.20" width="4.86" height="8.80" fill="#17622b"/>
<rect x="341.63" y="160.00" width="4.86" height="12.80" fill="#3cb55c"/>
<rect x="341.63" y="172.80" width="4.86" height="13.60" fill="#7cc46a"/>
<rect x="341.63" y="186.40" width="4.86" height="27.70" fill="#238a40"/>
<rect x="341.63" y="214.10" width="4.86" height="69.70" fill="#86cc97"/>
<rect x="346.48" y="13.80" width="4.86" height="2.40" fill="#0a0a0a"/>
<rect x="346.48" y="16.20" width="4.86" height="32.10" fill="#e3e23a"/>
<rect x="346.48" y="48.30" width="4.86" height="4.50" fill="#bf68b6"/>
<rect x="346.48" y="52.80" width="4.86" height="28.80" fill="#234d96"/>
<rect x="346.48" y="81.60" width="4.86" height="5.60" fill="#2149a5"/>
<rect x="346.48" y="87.20" width="4.86" height="9.60" fill="#19b8b9"/>
<rect x="346.48" y="96.80" width="4.86" height="55.20" fill="#9dd8d6"/>
<rect x="346.48" y="152.00" width="4.86" height="8.80" fill="#17622b"/>
<rect x="346.48" y="160.80" width="4.86" height="9.60" fill="#3cb55c"/>
<rect x="346.48" y="170.40" width="4.86" height="4.50" fill="#7cc46a"/>
<rect x="346.48" y="174.90" width="4.86" height="30.30" fill="#238a40"/>
<rect x="346.48" y="205.20" width="4.86" height="78.60" fill="#86cc97"/>
<rect x="351.34" y="13.80" width="4.86" height="1.20" fill="#0a0a0a"/>
<rect x="351.34" y="15.00" width="4.86" height="17.40" fill="#e3e23a"/>
<rect x="351.34" y="32.40" width="4.86" height="2.40" fill="#bf68b6"/>
<rect x="351.34" y="34.80" width="4.86" height="1.20" fill="#eb282e"/>
<rect x="351.34" y="36.00" width="4.86" height="3.40" fill="#234d96"/>
<rect x="351.34" y="39.40" width="4.86" height="89.20" fill="#2149a5"/>
<rect x="351.34" y="128.60" width="4.86" height="10.00" fill="#19b8b9"/>
<rect x="351.34" y="138.60" width="4.86" height="13.40" fill="#9dd8d6"/>
<rect x="351.34" y="152.00" width="4.86" height="10.40" fill="#17622b"/>
<rect x="351.34" y="162.40" width="4.86" height="18.40" fill="#3cb55c"/>
<rect x="351.34" y="180.80" width="4.86" height="10.10" fill="#7cc46a"/>
<rect x="351.34" y="190.90" width="4.86" height="19.90" fill="#238a40"/>
<rect x="351.34" y="210.80" width="4.86" height="73.00" fill="#86cc97"/>
<rect x="356.20" y="13.80" width="4.86" height="18.00" fill="#0a0a0a"/>
<rect x="356.20" y="31.80" width="4.86" height="11.70" fill="#e3e23a"/>
<rect x="356.20" y="43.50" width="4.86" height="1.90" fill="#bf68b6"/>
<rect x="356.20" y="45.40" width="4.86" height="4.40" fill="#f4abb8"/>
<rect x="356.20" y="49.80" width="4.86" height="31.80" fill="#234d96"/>
<rect x="356.20" y="81.60" width="4.86" height="7.00" fill="#3d7fc4"/>
<rect x="356.20" y="88.60" width="4.86" height="2.20" fill="#2149a5"/>
<rect x="356.20" y="90.80" width="4.86" height="16.60" fill="#19b8b9"/>
<rect x="356.20" y="107.40" width="4.86" height="51.80" fill="#9dd8d6"/>
<rect x="356.20" y="159.20" width="4.86" height="13.60" fill="#17622b"/>
<rect x="356.20" y="172.80" width="4.86" height="12.80" fill="#3cb55c"/>
<rect x="356.20" y="185.60" width="4.86" height="5.90" fill="#7cc46a"/>
<rect x="356.20" y="191.50" width="4.86" height="26.90" fill="#238a40"/>
<rect x="356.20" y="218.40" width="4.86" height="65.40" fill="#86cc97"/>
<rect x="361.06" y="13.80" width="4.86" height="2.40" fill="#0a0a0a"/>
<rect x="361.06" y="16.20" width="4.86" height="23.70" fill="#e3e23a"/>
<rect x="361.06" y="39.90" width="4.86" height="13.50" fill="#bf68b6"/>
<rect x="361.06" y="53.40" width="4.86" height="1.20" fill="#f4abb8"/>
<rect x="361.06" y="54.60" width="4.86" height="13.60" fill="#234d96"/>
<rect x="361.06" y="68.20" width="4.86" height="14.40" fill="#2149a5"/>
<rect x="361.06" y="82.60" width="4.86" height="53.80" fill="#19b8b9"/>
<rect x="361.06" y="136.40" width="4.86" height="23.60" fill="#9dd8d6"/>
<rect x="361.06" y="160.00" width="4.86" height="14.40" fill="#17622b"/>
<rect x="361.06" y="174.40" width="4.86" height="11.20" fill="#3cb55c"/>
<rect x="361.06" y="185.60" width="4.86" height="14.50" fill="#7cc46a"/>
<rect x="361.06" y="200.10" width="4.86" height="36.80" fill="#238a40"/>
<rect x="361.06" y="236.90" width="4.86" height="46.90" fill="#86cc97"/>
<rect x="365.91" y="13.80" width="4.86" height="3.00" fill="#0a0a0a"/>
<rect x="365.91" y="16.80" width="4.86" height="78.40" fill="#e3e23a"/>
<rect x="365.91" y="95.20" width="4.86" height="11.00" fill="#bf68b6"/>
<rect x="365.91" y="106.20" width="4.86" height="7.60" fill="#234d96"/>
<rect x="365.91" y="113.80" width="4.86" height="7.60" fill="#19b8b9"/>
<rect x="365.91" y="121.40" width="4.86" height="39.10" fill="#9dd8d6"/>
<rect x="365.91" y="160.50" width="4.86" height="8.60" fill="#17622b"/>
<rect x="365.91" y="169.10" width="4.86" height="9.60" fill="#3cb55c"/>
<rect x="365.91" y="178.70" width="4.86" height="7.70" fill="#7cc46a"/>
<rect x="365.91" y="186.40" width="4.86" height="50.50" fill="#238a40"/>
<rect x="365.91" y="236.90" width="4.86" height="46.90" fill="#86cc97"/>
<rect x="370.77" y="13.80" width="4.86" height="6.80" fill="#0a0a0a"/>
<rect x="370.77" y="20.60" width="4.86" height="17.20" fill="#e3e23a"/>
<rect x="370.77" y="37.80" width="4.86" height="3.60" fill="#bf68b6"/>
<rect x="370.77" y="41.40" width="4.86" height="9.60" fill="#eb282e"/>
<rect x="370.77" y="51.00" width="4.86" height="6.60" fill="#234d96"/>
<rect x="370.77" y="57.60" width="4.86" height="11.60" fill="#3d7fc4"/>
<rect x="370.77" y="69.20" width="4.86" height="52.20" fill="#2149a5"/>
<rect x="370.77" y="121.40" width="4.86" height="7.20" fill="#19b8b9"/>
<rect x="370.77" y="128.60" width="4.86" height="34.60" fill="#9dd8d6"/>
<rect x="370.77" y="163.20" width="4.86" height="12.30" fill="#17622b"/>
<rect x="370.77" y="175.50" width="4.86" height="12.80" fill="#3cb55c"/>
<rect x="370.77" y="188.30" width="4.86" height="18.20" fill="#7cc46a"/>
<rect x="370.77" y="206.50" width="4.86" height="36.20" fill="#238a40"/>
<rect x="370.77" y="242.70" width="4.86" height="41.10" fill="#86cc97"/>
<rect x="375.63" y="13.80" width="4.86" height="5.20" fill="#0a0a0a"/>
<rect x="375.63" y="19.00" width="4.86" height="34.40" fill="#e3e23a"/>
<rect x="375.63" y="53.40" width="4.86" height="1.60" fill="#bf68b6"/>
<rect x="375.63" y="55.00" width="4.86" height="8.60" fill="#234d96"/>
<rect x="375.63" y="63.60" width="4.86" height="2.20" fill="#3d7fc4"/>
<rect x="375.63" y="65.80" width="4.86" height="16.60" fill="#19b8b9"/>
<rect x="375.63" y="82.40" width="4.86" height="86.70" fill="#9dd8d6"/>
<rect x="375.63" y="169.10" width="4.86" height="5.30" fill="#17622b"/>
<rect x="375.63" y="174.40" width="4.86" height="20.70" fill="#3cb55c"/>
<rect x="375.63" y="195.10" width="4.86" height="29.90" fill="#238a40"/>
<rect x="375.63" y="225.00" width="4.86" height="58.80" fill="#86cc97"/>
<rect x="380.48" y="13.80" width="4.86" height="0.80" fill="#0a0a0a"/>
<rect x="380.48" y="14.60" width="4.86" height="8.80" fill="#e3e23a"/>
<rect x="380.48" y="23.40" width="4.86" height="56.80" fill="#bf68b6"/>
<rect x="380.48" y="80.20" width="4.86" height="4.80" fill="#234d96"/>
<rect x="380.48" y="85.00" width="4.86" height="15.60" fill="#2149a5"/>
<rect x="380.48" y="100.60" width="4.86" height="6.80" fill="#19b8b9"/>
<rect x="380.48" y="107.40" width="4.86" height="62.70" fill="#9dd8d6"/>
<rect x="380.48" y="170.10" width="4.86" height="12.80" fill="#17622b"/>
<rect x="380.48" y="182.90" width="4.86" height="3.50" fill="#3cb55c"/>
<rect x="380.48" y="186.40" width="4.86" height="4.80" fill="#7cc46a"/>
<rect x="380.48" y="191.20" width="4.86" height="35.60" fill="#238a40"/>
<rect x="380.48" y="226.80" width="4.86" height="57.00" fill="#86cc97"/>
<rect x="385.34" y="13.80" width="4.86" height="8.00" fill="#0a0a0a"/>
<rect x="385.34" y="21.80" width="4.86" height="33.70" fill="#e3e23a"/>
<rect x="385.34" y="55.50" width="4.86" height="2.10" fill="#bf68b6"/>
<rect x="385.34" y="57.60" width="4.86" height="2.80" fill="#234d96"/>
<rect x="385.34" y="60.40" width="4.86" height="22.40" fill="#2149a5"/>
<rect x="385.34" y="82.80" width="4.86" height="8.50" fill="#19b8b9"/>
<rect x="385.34" y="91.30" width="4.86" height="84.70" fill="#9dd8d6"/>
<rect x="385.34" y="176.00" width="4.86" height="16.80" fill="#17622b"/>
<rect x="385.34" y="192.80" width="4.86" height="2.40" fill="#3cb55c"/>
<rect x="385.34" y="195.20" width="4.86" height="7.50" fill="#7cc46a"/>
<rect x="385.34" y="202.70" width="4.86" height="36.70" fill="#238a40"/>
<rect x="385.34" y="239.40" width="4.86" height="44.40" fill="#86cc97"/>
<rect x="390.20" y="13.80" width="4.86" height="2.40" fill="#0a0a0a"/>
<rect x="390.20" y="16.20" width="4.86" height="98.00" fill="#e3e23a"/>
<rect x="390.20" y="114.20" width="4.86" height="6.80" fill="#bf68b6"/>
<rect x="390.20" y="121.00" width="4.86" height="4.90" fill="#234d96"/>
<rect x="390.20" y="125.90" width="4.86" height="4.80" fill="#2149a5"/>
<rect x="390.20" y="130.70" width="4.86" height="5.10" fill="#19b8b9"/>
<rect x="390.20" y="135.80" width="4.86" height="45.00" fill="#9dd8d6"/>
<rect x="390.20" y="180.80" width="4.86" height="20.60" fill="#17622b"/>
<rect x="390.20" y="201.40" width="4.86" height="5.80" fill="#3cb55c"/>
<rect x="390.20" y="207.20" width="4.86" height="2.50" fill="#7cc46a"/>
<rect x="390.20" y="209.70" width="4.86" height="28.50" fill="#238a40"/>
<rect x="390.20" y="238.20" width="4.86" height="45.60" fill="#86cc97"/>
<rect x="395.05" y="13.80" width="4.86" height="1.20" fill="#0a0a0a"/>
<rect x="395.05" y="15.00" width="4.86" height="96.40" fill="#e3e23a"/>
<rect x="395.05" y="111.40" width="4.86" height="11.20" fill="#bf68b6"/>
<rect x="395.05" y="122.60" width="4.86" height="1.20" fill="#f4abb8"/>
<rect x="395.05" y="123.80" width="4.86" height="4.20" fill="#234d96"/>
<rect x="395.05" y="128.00" width="4.86" height="1.50" fill="#2149a5"/>
<rect x="395.05" y="129.50" width="4.86" height="15.60" fill="#19b8b9"/>
<rect x="395.05" y="145.10" width="4.86" height="36.80" fill="#9dd8d6"/>
<rect x="395.05" y="181.90" width="4.86" height="13.30" fill="#17622b"/>
<rect x="395.05" y="195.20" width="4.86" height="2.40" fill="#7cc46a"/>
<rect x="395.05" y="197.60" width="4.86" height="52.00" fill="#238a40"/>
<rect x="395.05" y="249.60" width="4.86" height="34.20" fill="#86cc97"/>
<rect x="399.91" y="13.80" width="4.86" height="1.80" fill="#0a0a0a"/>
<rect x="399.91" y="15.60" width="4.86" height="6.60" fill="#e3e23a"/>
<rect x="399.91" y="22.20" width="4.86" height="31.80" fill="#bf68b6"/>
<rect x="399.91" y="54.00" width="4.86" height="1.50" fill="#f4abb8"/>
<rect x="399.91" y="55.50" width="4.86" height="7.30" fill="#234d96"/>
<rect x="399.91" y="62.80" width="4.86" height="10.00" fill="#2149a5"/>
<rect x="399.91" y="72.80" width="4.86" height="3.60" fill="#19b8b9"/>
<rect x="399.91" y="76.40" width="4.86" height="109.20" fill="#9dd8d6"/>
<rect x="399.91" y="185.60" width="4.86" height="13.30" fill="#17622b"/>
<rect x="399.91" y="198.90" width="4.86" height="4.30" fill="#7cc46a"/>
<rect x="399.91" y="203.20" width="4.86" height="15.20" fill="#238a40"/>
<rect x="399.91" y="218.40" width="4.86" height="65.40" fill="#86cc97"/>
<rect x="404.77" y="13.80" width="4.86" height="3.00" fill="#0a0a0a"/>
<rect x="404.77" y="16.80" width="4.86" height="13.80" fill="#e3e23a"/>
<rect x="404.77" y="30.60" width="4.86" height="29.80" fill="#bf68b6"/>
<rect x="404.77" y="60.40" width="4.86" height="9.00" fill="#234d96"/>
<rect x="404.77" y="69.40" width="4.86" height="6.20" fill="#2149a5"/>
<rect x="404.77" y="75.60" width="4.86" height="7.00" fill="#19b8b9"/>
<rect x="404.77" y="82.60" width="4.86" height="106.20" fill="#9dd8d6"/>
<rect x="404.77" y="188.80" width="4.86" height="9.30" fill="#17622b"/>
<rect x="404.77" y="198.10" width="4.86" height="3.30" fill="#3cb55c"/>
<rect x="404.77" y="201.40" width="4.86" height="2.60" fill="#7cc46a"/>
<rect x="404.77" y="204.00" width="4.86" height="27.80" fill="#238a40"/>
<rect x="404.77" y="231.80" width="4.86" height="52.00" fill="#86cc97"/>
<rect x="409.63" y="13.80" width="4.86" height="0.80" fill="#0a0a0a"/>
<rect x="409.63" y="14.60" width="4.86" height="10.00" fill="#e3e23a"/>
<rect x="409.63" y="24.60" width="4.86" height="0.60" fill="#bf68b6"/>
<rect x="409.63" y="25.20" width="4.86" height="7.80" fill="#234d96"/>
<rect x="409.63" y="33.00" width="4.86" height="1.60" fill="#2149a5"/>
<rect x="409.63" y="34.60" width="4.86" height="3.80" fill="#19b8b9"/>
<rect x="409.63" y="38.40" width="4.86" height="153.20" fill="#9dd8d6"/>
<rect x="409.63" y="191.60" width="4.86" height="18.30" fill="#17622b"/>
<rect x="409.63" y="209.90" width="4.86" height="42.60" fill="#238a40"/>
<rect x="409.63" y="252.50" width="4.86" height="31.30" fill="#86cc97"/>
<rect x="414.48" y="13.80" width="4.86" height="0.80" fill="#0a0a0a"/>
<rect x="414.48" y="14.60" width="4.86" height="8.80" fill="#e3e23a"/>
<rect x="414.48" y="23.40" width="4.86" height="8.80" fill="#234d96"/>
<rect x="414.48" y="32.20" width="4.86" height="2.60" fill="#2149a5"/>
<rect x="414.48" y="34.80" width="4.86" height="7.00" fill="#19b8b9"/>
<rect x="414.48" y="41.80" width="4.86" height="157.90" fill="#9dd8d6"/>
<rect x="414.48" y="199.70" width="4.86" height="13.20" fill="#17622b"/>
<rect x="414.48" y="212.90" width="4.86" height="32.60" fill="#238a40"/>
<rect x="414.48" y="245.50" width="4.86" height="38.30" fill="#86cc97"/>
<rect x="419.34" y="13.80" width="4.86" height="2.00" fill="#0a0a0a"/>
<rect x="419.34" y="15.80" width="4.86" height="26.20" fill="#e3e23a"/>
<rect x="419.34" y="42.00" width="4.86" height="1.20" fill="#bf68b6"/>
<rect x="419.34" y="43.20" width="4.86" height="17.20" fill="#234d96"/>
<rect x="419.34" y="60.40" width="4.86" height="5.60" fill="#3d7fc4"/>
<rect x="419.34" y="66.00" width="4.86" height="5.20" fill="#2149a5"/>
<rect x="419.34" y="71.20" width="4.86" height="10.40" fill="#19b8b9"/>
<rect x="419.34" y="81.60" width="4.86" height="121.70" fill="#9dd8d6"/>
<rect x="419.34" y="203.30" width="4.86" height="16.60" fill="#17622b"/>
<rect x="419.34" y="219.90" width="4.86" height="11.70" fill="#3cb55c"/>
<rect x="419.34" y="231.60" width="4.86" height="1.40" fill="#7cc46a"/>
<rect x="419.34" y="233.00" width="4.86" height="16.60" fill="#238a40"/>
<rect x="419.34" y="249.60" width="4.86" height="34.20" fill="#86cc97"/>
<rect x="424.20" y="13.80" width="4.86" height="1.80" fill="#0a0a0a"/>
<rect x="424.20" y="15.60" width="4.86" height="5.80" fill="#bf68b6"/>
<rect x="424.20" y="21.40" width="4.86" height="51.60" fill="#eb282e"/>
<rect x="424.20" y="73.00" width="4.86" height="12.60" fill="#234d96"/>
<rect x="424.20" y="85.60" width="4.86" height="17.20" fill="#3d7fc4"/>
<rect x="424.20" y="102.80" width="4.86" height="10.20" fill="#2149a5"/>
<rect x="424.20" y="113.00" width="4.86" height="6.00" fill="#19b8b9"/>
<rect x="424.20" y="119.00" width="4.86" height="85.10" fill="#9dd8d6"/>
<rect x="424.20" y="204.10" width="4.86" height="11.00" fill="#17622b"/>
<rect x="424.20" y="215.10" width="4.86" height="8.80" fill="#3cb55c"/>
<rect x="424.20" y="223.90" width="4.86" height="2.10" fill="#7cc46a"/>
<rect x="424.20" y="226.00" width="4.86" height="19.90" fill="#238a40"/>
<rect x="424.20" y="245.90" width="4.86" height="37.90" fill="#86cc97"/>
<rect x="429.05" y="13.80" width="4.86" height="2.80" fill="#0a0a0a"/>
<rect x="429.05" y="16.60" width="4.86" height="20.00" fill="#e3e23a"/>
<rect x="429.05" y="36.60" width="4.86" height="10.20" fill="#bf68b6"/>
<rect x="429.05" y="46.80" width="4.86" height="6.60" fill="#234d96"/>
<rect x="429.05" y="53.40" width="4.86" height="11.20" fill="#2149a5"/>
<rect x="429.05" y="64.60" width="4.86" height="16.80" fill="#19b8b9"/>
<rect x="429.05" y="81.40" width="4.86" height="128.80" fill="#9dd8d6"/>
<rect x="429.05" y="210.20" width="4.86" height="9.70" fill="#17622b"/>
<rect x="429.05" y="219.90" width="4.86" height="5.40" fill="#3cb55c"/>
<rect x="429.05" y="225.30" width="4.86" height="3.00" fill="#7cc46a"/>
<rect x="429.05" y="228.30" width="4.86" height="18.40" fill="#238a40"/>
<rect x="429.05" y="246.70" width="4.86" height="37.10" fill="#86cc97"/>
<rect x="433.91" y="13.80" width="4.86" height="1.80" fill="#0a0a0a"/>
<rect x="433.91" y="15.60" width="4.86" height="18.00" fill="#bf68b6"/>
<rect x="433.91" y="33.60" width="4.86" height="18.00" fill="#f4abb8"/>
<rect x="433.91" y="51.60" width="4.86" height="81.40" fill="#eb282e"/>
<rect x="433.91" y="133.00" width="4.86" height="11.80" fill="#234d96"/>
<rect x="433.91" y="144.80" width="4.86" height="28.50" fill="#3d7fc4"/>
<rect x="433.91" y="173.30" width="4.86" height="23.70" fill="#2149a5"/>
<rect x="433.91" y="197.00" width="4.86" height="1.50" fill="#19b8b9"/>
<rect x="433.91" y="198.50" width="4.86" height="12.60" fill="#9dd8d6"/>
<rect x="433.91" y="211.10" width="4.86" height="4.70" fill="#17622b"/>
<rect x="433.91" y="215.80" width="4.86" height="59.50" fill="#238a40"/>
<rect x="433.91" y="275.30" width="4.86" height="8.50" fill="#86cc97"/>
<rect x="438.77" y="13.80" width="4.86" height="1.80" fill="#0a0a0a"/>
<rect x="438.77" y="15.60" width="4.86" height="7.40" fill="#e3e23a"/>
<rect x="438.77" y="23.00" width="4.86" height="9.60" fill="#bf68b6"/>
<rect x="438.77" y="32.60" width="4.86" height="8.80" fill="#234d96"/>
<rect x="438.77" y="41.40" width="4.86" height="13.20" fill="#2149a5"/>
<rect x="438.77" y="54.60" width="4.86" height="8.80" fill="#19b8b9"/>
<rect x="438.77" y="63.40" width="4.86" height="152.40" fill="#9dd8d6"/>
<rect x="438.77" y="215.80" width="4.86" height="13.20" fill="#17622b"/>
<rect x="438.77" y="229.00" width="4.86" height="27.60" fill="#238a40"/>
<rect x="438.77" y="256.60" width="4.86" height="27.20" fill="#86cc97"/>
<rect x="443.62" y="13.80" width="4.86" height="0.80" fill="#0a0a0a"/>
<rect x="443.62" y="14.60" width="4.86" height="8.20" fill="#bf68b6"/>
<rect x="443.62" y="22.80" width="4.86" height="1.80" fill="#f4abb8"/>
<rect x="443.62" y="24.60" width="4.86" height="108.80" fill="#eb282e"/>
<rect x="443.62" y="133.40" width="4.86" height="29.00" fill="#234d96"/>
<rect x="443.62" y="162.40" width="4.86" height="68.10" fill="#3d7fc4"/>
<rect x="443.62" y="230.50" width="4.86" height="3.60" fill="#2149a5"/>
<rect x="443.62" y="234.10" width="4.86" height="3.00" fill="#19b8b9"/>
<rect x="443.62" y="237.10" width="4.86" height="8.40" fill="#17622b"/>
<rect x="443.62" y="245.50" width="4.86" height="1.20" fill="#7cc46a"/>
<rect x="443.62" y="246.70" width="4.86" height="19.80" fill="#238a40"/>
<rect x="443.62" y="266.50" width="4.86" height="17.30" fill="#86cc97"/>
<rect x="448.48" y="13.80" width="4.86" height="2.40" fill="#0a0a0a"/>
<rect x="448.48" y="16.20" width="4.86" height="6.40" fill="#bf68b6"/>
<rect x="448.48" y="22.60" width="4.86" height="111.40" fill="#eb282e"/>
<rect x="448.48" y="134.00" width="4.86" height="4.80" fill="#234d96"/>
<rect x="448.48" y="138.80" width="4.86" height="6.00" fill="#3d7fc4"/>
<rect x="448.48" y="144.80" width="4.86" height="4.00" fill="#2149a5"/>
<rect x="448.48" y="148.80" width="4.86" height="11.70" fill="#19b8b9"/>
<rect x="448.48" y="160.50" width="4.86" height="82.50" fill="#9dd8d6"/>
<rect x="448.48" y="243.00" width="4.86" height="4.80" fill="#17622b"/>
<rect x="448.48" y="247.80" width="4.86" height="1.80" fill="#7cc46a"/>
<rect x="448.48" y="249.60" width="4.86" height="24.20" fill="#238a40"/>
<rect x="448.48" y="273.80" width="4.86" height="10.00" fill="#86cc97"/>
<rect x="453.34" y="13.80" width="4.86" height="1.20" fill="#0a0a0a"/>
<rect x="453.34" y="15.00" width="4.86" height="7.80" fill="#bf68b6"/>
<rect x="453.34" y="22.80" width="4.86" height="173.90" fill="#eb282e"/>
<rect x="453.34" y="196.70" width="4.86" height="4.40" fill="#2149a5"/>
<rect x="453.34" y="201.10" width="4.86" height="1.40" fill="#3d7fc4"/>
<rect x="453.34" y="202.50" width="4.86" height="1.50" fill="#2149a5"/>
<rect x="453.34" y="204.00" width="4.86" height="2.70" fill="#19b8b9"/>
<rect x="453.34" y="206.70" width="4.86" height="46.10" fill="#9dd8d6"/>
<rect x="453.34" y="252.80" width="4.86" height="4.10" fill="#17622b"/>
<rect x="453.34" y="256.90" width="4.86" height="18.80" fill="#238a40"/>
<rect x="453.34" y="275.70" width="4.86" height="8.10" fill="#86cc97"/>
<rect x="458.20" y="13.80" width="4.86" height="5.20" fill="#0a0a0a"/>
<rect x="458.20" y="19.00" width="4.86" height="4.00" fill="#bf68b6"/>
<rect x="458.20" y="23.00" width="4.86" height="0.80" fill="#234d96"/>
<rect x="458.20" y="23.80" width="4.86" height="202.60" fill="#eb282e"/>
<rect x="458.20" y="226.40" width="4.86" height="2.30" fill="#2149a5"/>
<rect x="458.20" y="228.70" width="4.86" height="6.20" fill="#3d7fc4"/>
<rect x="458.20" y="234.90" width="4.86" height="5.20" fill="#2149a5"/>
<rect x="458.20" y="240.10" width="4.86" height="1.90" fill="#19b8b9"/>
<rect x="458.20" y="242.00" width="4.86" height="13.20" fill="#9dd8d6"/>
<rect x="458.20" y="255.20" width="4.86" height="4.40" fill="#17622b"/>
<rect x="458.20" y="259.60" width="4.86" height="15.20" fill="#238a40"/>
<rect x="458.20" y="274.80" width="4.86" height="9.00" fill="#86cc97"/>
<rect x="463.05" y="13.80" width="4.86" height="2.80" fill="#0a0a0a"/>
<rect x="463.05" y="16.60" width="4.86" height="14.60" fill="#bf68b6"/>
<rect x="463.05" y="31.20" width="4.86" height="140.00" fill="#eb282e"/>
<rect x="463.05" y="171.20" width="4.86" height="1.60" fill="#234d96"/>
<rect x="463.05" y="172.80" width="4.86" height="3.20" fill="#3d7fc4"/>
<rect x="463.05" y="176.00" width="4.86" height="4.80" fill="#2149a5"/>
<rect x="463.05" y="180.80" width="4.86" height="3.20" fill="#19b8b9"/>
<rect x="463.05" y="184.00" width="4.86" height="74.40" fill="#9dd8d6"/>
<rect x="463.05" y="258.40" width="4.86" height="8.10" fill="#17622b"/>
<rect x="463.05" y="266.50" width="4.86" height="13.90" fill="#238a40"/>
<rect x="463.05" y="280.40" width="4.86" height="3.40" fill="#86cc97"/>
<rect x="467.91" y="13.80" width="4.86" height="1.60" fill="#0a0a0a"/>
<rect x="467.91" y="15.40" width="4.86" height="2.00" fill="#e3e23a"/>
<rect x="467.91" y="17.40" width="4.86" height="15.20" fill="#bf68b6"/>
<rect x="467.91" y="32.60" width="4.86" height="145.00" fill="#eb282e"/>
<rect x="467.91" y="177.60" width="4.86" height="3.20" fill="#2149a5"/>
<rect x="467.91" y="180.80" width="4.86" height="13.00" fill="#3d7fc4"/>
<rect x="467.91" y="193.80" width="4.86" height="3.70" fill="#2149a5"/>
<rect x="467.91" y="197.50" width="4.86" height="6.90" fill="#19b8b9"/>
<rect x="467.91" y="204.40" width="4.86" height="61.60" fill="#9dd8d6"/>
<rect x="467.91" y="266.00" width="4.86" height="3.40" fill="#17622b"/>
<rect x="467.91" y="269.40" width="4.86" height="7.30" fill="#238a40"/>
<rect x="467.91" y="276.70" width="4.86" height="7.10" fill="#86cc97"/>
<rect x="472.77" y="13.80" width="4.86" height="0.60" fill="#0a0a0a"/>
<rect x="472.77" y="14.40" width="4.86" height="9.60" fill="#bf68b6"/>
<rect x="472.77" y="24.00" width="4.86" height="1.00" fill="#234d96"/>
<rect x="472.77" y="25.00" width="4.86" height="204.70" fill="#eb282e"/>
<rect x="472.77" y="229.70" width="4.86" height="2.20" fill="#2149a5"/>
<rect x="472.77" y="231.90" width="4.86" height="9.20" fill="#3d7fc4"/>
<rect x="472.77" y="241.10" width="4.86" height="6.70" fill="#2149a5"/>
<rect x="472.77" y="247.80" width="4.86" height="28.20" fill="#9dd8d6"/>
<rect x="472.77" y="276.00" width="4.86" height="2.20" fill="#17622b"/>
<rect x="472.77" y="278.20" width="4.86" height="2.30" fill="#238a40"/>
<rect x="472.77" y="280.50" width="4.86" height="3.30" fill="#86cc97"/>
</g>
<g fill="none" stroke="#7a7a7a" stroke-width="1.0">
<line x1="45.35" y1="13.8" x2="45.35" y2="283.8"/>
<line x1="50.21" y1="13.8" x2="50.21" y2="283.8"/>
<line x1="55.06" y1="13.8" x2="55.06" y2="283.8"/>
<line x1="59.92" y1="13.8" x2="59.92" y2="283.8"/>
<line x1="64.78" y1="13.8" x2="64.78" y2="283.8"/>
<line x1="69.64" y1="13.8" x2="69.64" y2="283.8"/>
<line x1="74.49" y1="13.8" x2="74.49" y2="283.8"/>
<line x1="79.35" y1="13.8" x2="79.35" y2="283.8"/>
<line x1="84.21" y1="13.8" x2="84.21" y2="283.8"/>
<line x1="89.06" y1="13.8" x2="89.06" y2="283.8"/>
<line x1="93.92" y1="13.8" x2="93.92" y2="283.8"/>
<line x1="98.78" y1="13.8" x2="98.78" y2="283.8"/>
<line x1="103.63" y1="13.8" x2="103.63" y2="283.8"/>
<line x1="108.49" y1="13.8" x2="108.49" y2="283.8"/>
<line x1="113.35" y1="13.8" x2="113.35" y2="283.8"/>
<line x1="118.21" y1="13.8" x2="118.21" y2="283.8"/>
<line x1="123.06" y1="13.8" x2="123.06" y2="283.8"/>
<line x1="127.92" y1="13.8" x2="127.92" y2="283.8"/>
<line x1="132.78" y1="13.8" x2="132.78" y2="283.8"/>
<line x1="137.63" y1="13.8" x2="137.63" y2="283.8"/>
<line x1="142.49" y1="13.8" x2="142.49" y2="283.8"/>
<line x1="147.35" y1="13.8" x2="147.35" y2="283.8"/>
<line x1="152.20" y1="13.8" x2="152.20" y2="283.8"/>
<line x1="157.06" y1="13.8" x2="157.06" y2="283.8"/>
<line x1="161.92" y1="13.8" x2="161.92" y2="283.8"/>
<line x1="166.78" y1="13.8" x2="166.78" y2="283.8"/>
<line x1="171.63" y1="13.8" x2="171.63" y2="283.8"/>
<line x1="176.49" y1="13.8" x2="176.49" y2="283.8"/>
<line x1="181.35" y1="13.8" x2="181.35" y2="283.8"/>
<line x1="186.20" y1="13.8" x2="186.20" y2="283.8"/>
<line x1="191.06" y1="13.8" x2="191.06" y2="283.8"/>
<line x1="195.92" y1="13.8" x2="195.92" y2="283.8"/>
<line x1="200.77" y1="13.8" x2="200.77" y2="283.8"/>
<line x1="205.63" y1="13.8" x2="205.63" y2="283.8"/>
<line x1="210.49" y1="13.8" x2="210.49" y2="283.8"/>
<line x1="215.34" y1="13.8" x2="215.34" y2="283.8"/>
<line x1="220.20" y1="13.8" x2="220.20" y2="283.8"/>
<line x1="225.06" y1="13.8" x2="225.06" y2="283.8"/>
<line x1="229.92" y1="13.8" x2="229.92" y2="283.8"/>
<line x1="234.77" y1="13.8" x2="234.77" y2="283.8"/>
<line x1="239.63" y1="13.8" x2="239.63" y2="283.8"/>
<line x1="244.49" y1="13.8" x2="244.49" y2="283.8"/>
<line x1="249.34" y1="13.8" x2="249.34" y2="283.8"/>
<line x1="254.20" y1="13.8" x2="254.20" y2="283.8"/>
<line x1="259.06" y1="13.8" x2="259.06" y2="283.8"/>
<line x1="263.92" y1="13.8" x2="263.92" y2="283.8"/>
<line x1="268.77" y1="13.8" x2="268.77" y2="283.8"/>
<line x1="273.63" y1="13.8" x2="273.63" y2="283.8"/>
<line x1="278.49" y1="13.8" x2="278.49" y2="283.8"/>
<line x1="283.34" y1="13.8" x2="283.34" y2="283.8"/>
<line x1="288.20" y1="13.8" x2="288.20" y2="283.8"/>
<line x1="293.06" y1="13.8" x2="293.06" y2="283.8"/>
<line x1="297.91" y1="13.8" x2="297.91" y2="283.8"/>
<line x1="302.77" y1="13.8" x2="302.77" y2="283.8"/>
<line x1="307.63" y1="13.8" x2="307.63" y2="283.8"/>
<line x1="312.49" y1="13.8" x2="312.49" y2="283.8"/>
<line x1="317.34" y1="13.8" x2="317.34" y2="283.8"/>
<line x1="322.20" y1="13.8" x2="322.20" y2="283.8"/>
<line x1="327.06" y1="13.8" x2="327.06" y2="283.8"/>
<line x1="331.91" y1="13.8" x2="331.91" y2="283.8"/>
<line x1="336.77" y1="13.8" x2="336.77" y2="283.8"/>
<line x1="341.63" y1="13.8" x2="341.63" y2="283.8"/>
<line x1="346.48" y1="13.8" x2="346.48" y2="283.8"/>
<line x1="351.34" y1="13.8" x2="351.34" y2="283.8"/>
<line x1="356.20" y1="13.8" x2="356.20" y2="283.8"/>
<line x1="361.06" y1="13.8" x2="361.06" y2="283.8"/>
<line x1="365.91" y1="13.8" x2="365.91" y2="283.8"/>
<line x1="370.77" y1="13.8" x2="370.77" y2="283.8"/>
<line x1="375.63" y1="13.8" x2="375.63" y2="283.8"/>
<line x1="380.48" y1="13.8" x2="380.48" y2="283.8"/>
<line x1="385.34" y1="13.8" x2="385.34" y2="283.8"/>
<line x1="390.20" y1="13.8" x2="390.20" y2="283.8"/>
<line x1="395.05" y1="13.8" x2="395.05" y2="283.8"/>
<line x1="399.91" y1="13.8" x2="399.91" y2="283.8"/>
<line x1="404.77" y1="13.8" x2="404.77" y2="283.8"/>
<line x1="409.63" y1="13.8" x2="409.63" y2="283.8"/>
<line x1="414.48" y1="13.8" x2="414.48" y2="283.8"/>
<line x1="419.34" y1="13.8" x2="419.34" y2="283.8"/>
<line x1="424.20" y1="13.8" x2="424.20" y2="283.8"/>
<line x1="429.05" y1="13.8" x2="429.05" y2="283.8"/>
<line x1="433.91" y1="13.8" x2="433.91" y2="283.8"/>
<line x1="438.77" y1="13.8" x2="438.77" y2="283.8"/>
<line x1="443.62" y1="13.8" x2="443.62" y2="283.8"/>
<line x1="448.48" y1="13.8" x2="448.48" y2="283.8"/>
<line x1="453.34" y1="13.8" x2="453.34" y2="283.8"/>
<line x1="458.20" y1="13.8" x2="458.20" y2="283.8"/>
<line x1="463.05" y1="13.8" x2="463.05" y2="283.8"/>
<line x1="467.91" y1="13.8" x2="467.91" y2="283.8"/>
<line x1="472.77" y1="13.8" x2="472.77" y2="283.8"/>
</g>
<line x1="288.6" y1="13.4" x2="288.6" y2="283.7" stroke="#f4f4f4" stroke-width="0.7"/>
<text x="271.40" y="11.9" text-anchor="middle" font-size="9" font-weight="bold" fill="#e8303a">*</text>
<text x="276.30" y="11.9" text-anchor="middle" font-size="9" font-weight="bold" fill="#e8303a">*</text>
<text x="329.50" y="11.9" text-anchor="middle" font-size="9" font-weight="bold" fill="#e8303a">*</text>
<text x="426.10" y="11.9" text-anchor="middle" font-size="9" font-weight="bold" fill="#e8303a">*</text>
<text x="435.50" y="11.9" text-anchor="middle" font-size="9" font-weight="bold" fill="#e8303a">*</text>
<text x="444.50" y="11.9" text-anchor="middle" font-size="9" font-weight="bold" fill="#e8303a">*</text>
<text x="449.50" y="11.9" text-anchor="middle" font-size="9" font-weight="bold" fill="#e8303a">*</text>
<text x="454.30" y="11.9" text-anchor="middle" font-size="9" font-weight="bold" fill="#e8303a">*</text>
<text x="459.00" y="11.9" text-anchor="middle" font-size="9" font-weight="bold" fill="#e8303a">*</text>
<text x="463.50" y="11.9" text-anchor="middle" font-size="9" font-weight="bold" fill="#e8303a">*</text>
<text x="468.30" y="11.9" text-anchor="middle" font-size="9" font-weight="bold" fill="#e8303a">*</text>
<text x="473.20" y="11.9" text-anchor="middle" font-size="9" font-weight="bold" fill="#e8303a">*</text>
<text x="48.4" y="295.5" font-size="8.6" font-weight="bold" fill="#222" textLength="39.2" lengthAdjust="spacingAndGlyphs">Firmicutes</text>
<rect x="47.6" y="302.30" width="11.8" height="5.3" fill="#86cc97"/>
<text x="63.1" y="307.10" font-size="7" fill="#333" textLength="48.8" lengthAdjust="spacingAndGlyphs">Ruminococcaceae</text>
<rect x="47.6" y="312.50" width="11.8" height="5.3" fill="#238a40"/>
<text x="63.1" y="317.30" font-size="7" fill="#333" textLength="46.5" lengthAdjust="spacingAndGlyphs">Lachnospiraceae</text>
<rect x="47.6" y="322.70" width="11.8" height="5.3" fill="#7cc46a"/>
<text x="63.1" y="327.50" font-size="7" fill="#333" textLength="53" lengthAdjust="spacingAndGlyphs">Christensenellaceae</text>
<rect x="47.6" y="332.90" width="11.8" height="5.3" fill="#3cb55c"/>
<text x="63.1" y="337.70" font-size="7" fill="#333" textLength="81" lengthAdjust="spacingAndGlyphs">Clostridiales vadinBB60 group</text>
<rect x="47.6" y="343.10" width="11.8" height="5.3" fill="#17622b"/>
<text x="63.1" y="347.90" font-size="7" fill="#333" textLength="78.7" lengthAdjust="spacingAndGlyphs">Other family from Firmicutes</text>
<text x="167.1" y="294.5" font-size="8.6" font-weight="bold" fill="#222" textLength="52" lengthAdjust="spacingAndGlyphs">Bacteroidetes</text>
<rect x="167.1" y="300.60" width="11.8" height="5.3" fill="#9dd8d6"/>
<text x="183.3" y="305.40" font-size="7" fill="#333" textLength="40" lengthAdjust="spacingAndGlyphs">Prevotellaceae</text>
<rect x="167.1" y="311.00" width="11.8" height="5.3" fill="#19b8b9"/>
<text x="184.5" y="315.80" font-size="7" fill="#333" textLength="37" lengthAdjust="spacingAndGlyphs">Rikenellaceae</text>
<rect x="167.1" y="321.40" width="11.8" height="5.3" fill="#2149a5"/>
<text x="184" y="326.20" font-size="7" fill="#333" textLength="43" lengthAdjust="spacingAndGlyphs">Muribaculaceae</text>
<rect x="167.1" y="331.80" width="11.8" height="5.3" fill="#3d7fc4"/>
<text x="183.5" y="336.60" font-size="7" fill="#333" textLength="41.5" lengthAdjust="spacingAndGlyphs">Bacteroidaceae</text>
<rect x="167.1" y="342.20" width="11.8" height="5.3" fill="#234d96"/>
<text x="183.3" y="347.00" font-size="7" fill="#333" textLength="88" lengthAdjust="spacingAndGlyphs">Other family from Bacteroidetes</text>
<text x="293.1" y="294.5" font-size="8.6" font-weight="bold" fill="#222" textLength="48.8" lengthAdjust="spacingAndGlyphs">Fusobacteria</text>
<rect x="294" y="301.40" width="11.8" height="5.3" fill="#eb282e"/>
<text x="309.2" y="307.00" font-size="7" fill="#333" textLength="47.3" lengthAdjust="spacingAndGlyphs">Fusobacteriaceae</text>
<text x="293.1" y="326.6" font-size="8.6" font-weight="bold" fill="#222" textLength="57" lengthAdjust="spacingAndGlyphs">Proteobacteria</text>
<rect x="294" y="332.10" width="11.8" height="5.3" fill="#f4abb8"/>
<text x="309.2" y="337.60" font-size="7" fill="#333" textLength="53.3" lengthAdjust="spacingAndGlyphs">Enterobacteriaceae</text>
<rect x="294" y="342.10" width="11.8" height="5.3" fill="#bf68b6"/>
<text x="309.2" y="347.60" font-size="7" fill="#333" textLength="91" lengthAdjust="spacingAndGlyphs">Other family from Proteobacteria</text>
<text x="412.5" y="294.3" font-size="8.6" font-weight="bold" fill="#222" textLength="48.6" lengthAdjust="spacingAndGlyphs">Spirochaetes</text>
<rect x="414.1" y="300.90" width="11.8" height="5.3" fill="#e3e23a"/>
<text x="429.8" y="305.70" font-size="7" fill="#333" textLength="45" lengthAdjust="spacingAndGlyphs">Spirochaetaceae</text>
<text x="414.1" y="317.2" font-size="8.6" font-weight="bold" fill="#222" textLength="53" lengthAdjust="spacingAndGlyphs">Other phylum</text>
<rect x="414.1" y="321.50" width="11.8" height="5.3" fill="#0a0a0a"/>
<text x="429.2" y="326.30" font-size="7" fill="#333" textLength="33.7" lengthAdjust="spacingAndGlyphs">Other family</text>
<text x="495.8" y="22.0" font-size="13.8" fill="#222">b</text>
<rect x="593.00" y="15.90" width="1.8" height="1.8" fill="#2148a8"/>
<rect x="594.00" y="17.70" width="1.8" height="1.8" fill="#c865b8"/>
<rect x="583.00" y="22.00" width="1.8" height="1.8" fill="#c865b8"/>
<rect x="597.80" y="21.20" width="1.8" height="1.8" fill="#2148a8"/>
<rect x="601.80" y="19.80" width="1.8" height="1.8" fill="#c865b8"/>
<rect x="596.50" y="23.70" width="1.8" height="1.8" fill="#2148a8"/>
<rect x="601.00" y="24.40" width="1.8" height="1.8" fill="#2148a8"/>
<rect x="591.40" y="29.40" width="1.8" height="1.8" fill="#c865b8"/>
<rect x="598.10" y="30.50" width="1.8" height="1.8" fill="#c865b8"/>
<rect x="601.20" y="30.50" width="1.8" height="1.8" fill="#c865b8"/>
<rect x="604.70" y="30.10" width="1.8" height="1.8" fill="#2148a8"/>
<rect x="609.20" y="31.40" width="1.8" height="1.8" fill="#2148a8"/>
<rect x="586.20" y="31.90" width="1.8" height="1.8" fill="#2148a8"/>
<rect x="582.00" y="35.10" width="1.8" height="1.8" fill="#c865b8"/>
<rect x="593.70" y="34.00" width="1.8" height="1.8" fill="#2148a8"/>
<rect x="597.80" y="34.60" width="1.8" height="1.8" fill="#c865b8"/>
<rect x="596.20" y="35.10" width="1.8" height="1.8" fill="#2148a8"/>
<rect x="594.90" y="36.40" width="1.8" height="1.8" fill="#c865b8"/>
<rect x="585.20" y="39.40" width="1.8" height="1.8" fill="#c865b8"/>
<rect x="595.10" y="41.00" width="1.8" height="1.8" fill="#2148a8"/>
<rect x="598.50" y="40.40" width="1.8" height="1.8" fill="#c865b8"/>
<rect x="600.40" y="41.00" width="1.8" height="1.8" fill="#2148a8"/>
<rect x="602.80" y="42.90" width="1.8" height="1.8" fill="#c865b8"/>
<rect x="599.00" y="43.30" width="1.8" height="1.8" fill="#2148a8"/>
<rect x="583.90" y="45.00" width="1.8" height="1.8" fill="#c865b8"/>
<rect x="594.90" y="44.40" width="1.8" height="1.8" fill="#c865b8"/>
<rect x="597.40" y="45.00" width="1.8" height="1.8" fill="#c865b8"/>
<rect x="600.40" y="45.20" width="1.8" height="1.8" fill="#2148a8"/>
<rect x="582.30" y="47.20" width="1.8" height="1.8" fill="#c865b8"/>
<rect x="594.00" y="46.80" width="1.8" height="1.8" fill="#2148a8"/>
<rect x="601.30" y="47.60" width="1.8" height="1.8" fill="#c865b8"/>
<rect x="588.50" y="48.60" width="1.8" height="1.8" fill="#2148a8"/>
<rect x="593.20" y="49.00" width="1.8" height="1.8" fill="#2148a8"/>
<rect x="604.20" y="48.40" width="1.8" height="1.8" fill="#c865b8"/>
<rect x="609.20" y="49.00" width="1.8" height="1.8" fill="#2148a8"/>
<rect x="612.70" y="49.00" width="1.8" height="1.8" fill="#c865b8"/>
<rect x="582.80" y="50.60" width="1.8" height="1.8" fill="#2148a8"/>
<rect x="596.70" y="50.00" width="1.8" height="1.8" fill="#2148a8"/>
<rect x="585.00" y="51.40" width="1.8" height="1.8" fill="#c865b8"/>
<rect x="598.80" y="50.10" width="1.8" height="1.8" fill="#c865b8"/>
<rect x="601.80" y="50.80" width="1.8" height="1.8" fill="#2148a8"/>
<rect x="590.10" y="53.00" width="1.8" height="1.8" fill="#c865b8"/>
<rect x="592.50" y="54.10" width="1.8" height="1.8" fill="#c865b8"/>
<rect x="597.80" y="53.00" width="1.8" height="1.8" fill="#2148a8"/>
<rect x="606.10" y="54.10" width="1.8" height="1.8" fill="#2148a8"/>
<rect x="591.20" y="55.70" width="1.8" height="1.8" fill="#c865b8"/>
<rect x="595.20" y="55.70" width="1.8" height="1.8" fill="#2148a8"/>
<rect x="599.40" y="55.20" width="1.8" height="1.8" fill="#2148a8"/>
<rect x="601.80" y="57.00" width="1.8" height="1.8" fill="#c865b8"/>
<rect x="614.80" y="56.80" width="1.8" height="1.8" fill="#2148a8"/>
<rect x="589.10" y="58.10" width="1.8" height="1.8" fill="#c865b8"/>
<rect x="590.40" y="58.80" width="1.8" height="1.8" fill="#c865b8"/>
<rect x="606.40" y="58.40" width="1.8" height="1.8" fill="#2148a8"/>
<rect x="615.40" y="58.80" width="1.8" height="1.8" fill="#c865b8"/>
<rect x="594.10" y="61.00" width="1.8" height="1.8" fill="#2148a8"/>
<rect x="597.80" y="60.80" width="1.8" height="1.8" fill="#2148a8"/>
<rect x="589.80" y="62.40" width="1.8" height="1.8" fill="#2148a8"/>
<rect x="593.00" y="62.10" width="1.8" height="1.8" fill="#c865b8"/>
<rect x="595.20" y="63.20" width="1.8" height="1.8" fill="#2148a8"/>
<rect x="597.80" y="63.40" width="1.8" height="1.8" fill="#2148a8"/>
<rect x="600.80" y="63.20" width="1.8" height="1.8" fill="#2148a8"/>
<rect x="604.10" y="62.80" width="1.8" height="1.8" fill="#2148a8"/>
<rect x="613.00" y="62.40" width="1.8" height="1.8" fill="#2148a8"/>
<rect x="597.40" y="65.00" width="1.8" height="1.8" fill="#c865b8"/>
<rect x="608.10" y="65.40" width="1.8" height="1.8" fill="#2148a8"/>
<rect x="591.20" y="66.40" width="1.8" height="1.8" fill="#2148a8"/>
<rect x="602.10" y="67.20" width="1.8" height="1.8" fill="#c865b8"/>
<rect x="593.80" y="69.80" width="1.8" height="1.8" fill="#2148a8"/>
<rect x="598.10" y="69.40" width="1.8" height="1.8" fill="#2148a8"/>
<rect x="600.80" y="70.10" width="1.8" height="1.8" fill="#c865b8"/>
<rect x="601.40" y="71.40" width="1.8" height="1.8" fill="#c865b8"/>
<rect x="606.10" y="70.10" width="1.8" height="1.8" fill="#2148a8"/>
<rect x="597.40" y="72.50" width="1.8" height="1.8" fill="#c865b8"/>
<rect x="610.40" y="74.80" width="1.8" height="1.8" fill="#c865b8"/>
<rect x="635.50" y="29.00" width="1.8" height="1.8" fill="#2148a8"/>
<rect x="639.30" y="29.60" width="1.8" height="1.8" fill="#c865b8"/>
<rect x="640.60" y="30.00" width="1.8" height="1.8" fill="#c865b8"/>
<rect x="633.10" y="33.10" width="1.8" height="1.8" fill="#2148a8"/>
<rect x="646.20" y="34.30" width="1.8" height="1.8" fill="#2148a8"/>
<rect x="652.30" y="36.50" width="1.8" height="1.8" fill="#c865b8"/>
<rect x="626.90" y="48.10" width="1.8" height="1.8" fill="#c865b8"/>
<rect x="643.00" y="48.10" width="1.8" height="1.8" fill="#2148a8"/>
<rect x="649.30" y="54.20" width="1.8" height="1.8" fill="#c865b8"/>
<rect x="629.40" y="58.00" width="1.8" height="1.8" fill="#2148a8"/>
<rect x="629.90" y="63.00" width="1.8" height="1.8" fill="#c865b8"/>
<rect x="646.70" y="73.50" width="1.8" height="1.8" fill="#2148a8"/>
<rect x="523.5" y="11.5" width="160.70" height="75.50" fill="none" stroke="#5e5e5e" stroke-width="1.1"/>
<line x1="521.1" y1="13.6" x2="523.5" y2="13.6" stroke="#5e5e5e" stroke-width="0.8"/>
<text transform="translate(520.30,13.6) rotate(-90)" text-anchor="middle" font-size="6.5" fill="#444">0.4</text>
<line x1="521.1" y1="30.97" x2="523.5" y2="30.97" stroke="#5e5e5e" stroke-width="0.8"/>
<text transform="translate(520.30,30.97) rotate(-90)" text-anchor="middle" font-size="6.5" fill="#444">0.2</text>
<line x1="521.1" y1="48.34" x2="523.5" y2="48.34" stroke="#5e5e5e" stroke-width="0.8"/>
<text transform="translate(520.30,48.34) rotate(-90)" text-anchor="middle" font-size="6.5" fill="#444">0.0</text>
<line x1="521.1" y1="65.71" x2="523.5" y2="65.71" stroke="#5e5e5e" stroke-width="0.8"/>
<text transform="translate(520.30,65.71) rotate(-90)" text-anchor="middle" font-size="6.5" fill="#444">0.2</text>
<line x1="518.00" y1="71.51" x2="518.00" y2="72.71" stroke="#555" stroke-width="0.6"/>
<line x1="521.1" y1="83.08" x2="523.5" y2="83.08" stroke="#5e5e5e" stroke-width="0.8"/>
<text transform="translate(520.30,83.08) rotate(-90)" text-anchor="middle" font-size="6.5" fill="#444">0.4</text>
<line x1="518.00" y1="88.88" x2="518.00" y2="90.08" stroke="#555" stroke-width="0.6"/>
<line x1="563.3" y1="87.0" x2="563.3" y2="89.2" stroke="#5e5e5e" stroke-width="0.8"/>
<text x="563.3" y="94.70" text-anchor="middle" font-size="6.5" fill="#444">0.5</text>
<line x1="555.80" y1="92.40" x2="557.00" y2="92.40" stroke="#555" stroke-width="0.6"/>
<line x1="606.2" y1="87.0" x2="606.2" y2="89.2" stroke="#5e5e5e" stroke-width="0.8"/>
<text x="606.2" y="94.70" text-anchor="middle" font-size="6.5" fill="#444">0.0</text>
<line x1="649.6" y1="87.0" x2="649.6" y2="89.2" stroke="#5e5e5e" stroke-width="0.8"/>
<text x="649.6" y="94.70" text-anchor="middle" font-size="6.5" fill="#444">0.5</text>
<text transform="translate(511.3,49.0) rotate(-90)" text-anchor="middle" font-size="9.3" fill="#222" textLength="30.2" lengthAdjust="spacingAndGlyphs">NMDS2</text>
<circle cx="536.1" cy="31.6" r="1.9" fill="#c865b8"/>
<text x="540.9" y="34.70" font-size="8.8" fill="#222" textLength="24.3" lengthAdjust="spacingAndGlyphs">Female</text>
<circle cx="536.1" cy="42.2" r="1.9" fill="#2148a8"/>
<text x="540.9" y="45.30" font-size="8.8" fill="#222" textLength="16.8" lengthAdjust="spacingAndGlyphs">Male</text>
<text x="609.3" y="84.6" font-size="7.2" fill="#333" textLength="66" lengthAdjust="spacingAndGlyphs">Adonis p-value = 0.55</text>
<text x="495.8" y="108.2" font-size="13.8" fill="#222">c</text>
<rect x="593.28" y="103.94" width="1.8" height="1.8" fill="#f26b3a"/>
<rect x="594.27" y="105.72" width="1.8" height="1.8" fill="#f26b3a"/>
<rect x="583.41" y="109.98" width="1.8" height="1.8" fill="#f26b3a"/>
<rect x="598.02" y="109.19" width="1.8" height="1.8" fill="#f26b3a"/>
<rect x="601.97" y="107.80" width="1.8" height="1.8" fill="#f26b3a"/>
<rect x="596.73" y="111.66" width="1.8" height="1.8" fill="#f26b3a"/>
<rect x="601.18" y="112.35" width="1.8" height="1.8" fill="#f26b3a"/>
<rect x="591.70" y="117.30" width="1.8" height="1.8" fill="#f26b3a"/>
<rect x="598.31" y="118.39" width="1.8" height="1.8" fill="#f26b3a"/>
<rect x="601.37" y="118.39" width="1.8" height="1.8" fill="#f26b3a"/>
<rect x="604.83" y="117.99" width="1.8" height="1.8" fill="#f26b3a"/>
<rect x="609.27" y="119.28" width="1.8" height="1.8" fill="#f26b3a"/>
<rect x="586.57" y="119.77" width="1.8" height="1.8" fill="#b54fb3"/>
<rect x="582.42" y="122.94" width="1.8" height="1.8" fill="#f26b3a"/>
<rect x="593.97" y="121.85" width="1.8" height="1.8" fill="#f26b3a"/>
<rect x="598.02" y="122.45" width="1.8" height="1.8" fill="#f26b3a"/>
<rect x="596.44" y="122.94" width="1.8" height="1.8" fill="#f26b3a"/>
<rect x="595.16" y="124.23" width="1.8" height="1.8" fill="#f26b3a"/>
<rect x="585.58" y="127.19" width="1.8" height="1.8" fill="#f26b3a"/>
<rect x="595.35" y="128.78" width="1.8" height="1.8" fill="#f26b3a"/>
<rect x="598.71" y="128.18" width="1.8" height="1.8" fill="#f26b3a"/>
<rect x="600.58" y="128.78" width="1.8" height="1.8" fill="#f26b3a"/>
<rect x="602.95" y="130.66" width="1.8" height="1.8" fill="#a9a9a9"/>
<rect x="599.20" y="131.05" width="1.8" height="1.8" fill="#f26b3a"/>
<rect x="584.30" y="132.74" width="1.8" height="1.8" fill="#f26b3a"/>
<rect x="595.16" y="132.14" width="1.8" height="1.8" fill="#f26b3a"/>
<rect x="597.62" y="132.74" width="1.8" height="1.8" fill="#f26b3a"/>
<rect x="600.58" y="132.93" width="1.8" height="1.8" fill="#f26b3a"/>
<rect x="582.72" y="134.91" width="1.8" height="1.8" fill="#f26b3a"/>
<rect x="594.27" y="134.52" width="1.8" height="1.8" fill="#f26b3a"/>
<rect x="601.47" y="135.31" width="1.8" height="1.8" fill="#a9a9a9"/>
<rect x="588.84" y="136.30" width="1.8" height="1.8" fill="#f26b3a"/>
<rect x="593.48" y="136.69" width="1.8" height="1.8" fill="#a9a9a9"/>
<rect x="604.33" y="136.10" width="1.8" height="1.8" fill="#f26b3a"/>
<rect x="609.27" y="136.69" width="1.8" height="1.8" fill="#a9a9a9"/>
<rect x="612.72" y="136.69" width="1.8" height="1.8" fill="#f26b3a"/>
<rect x="583.21" y="138.28" width="1.8" height="1.8" fill="#f26b3a"/>
<rect x="596.93" y="137.68" width="1.8" height="1.8" fill="#a9a9a9"/>
<rect x="585.38" y="139.07" width="1.8" height="1.8" fill="#a9a9a9"/>
<rect x="599.00" y="137.78" width="1.8" height="1.8" fill="#a9a9a9"/>
<rect x="601.97" y="138.47" width="1.8" height="1.8" fill="#a9a9a9"/>
<rect x="590.42" y="140.65" width="1.8" height="1.8" fill="#f26b3a"/>
<rect x="592.79" y="141.74" width="1.8" height="1.8" fill="#a9a9a9"/>
<rect x="598.02" y="140.65" width="1.8" height="1.8" fill="#f26b3a"/>
<rect x="606.21" y="141.74" width="1.8" height="1.8" fill="#f26b3a"/>
<rect x="591.50" y="143.32" width="1.8" height="1.8" fill="#f26b3a"/>
<rect x="595.45" y="143.32" width="1.8" height="1.8" fill="#a9a9a9"/>
<rect x="599.60" y="142.83" width="1.8" height="1.8" fill="#f26b3a"/>
<rect x="601.97" y="144.61" width="1.8" height="1.8" fill="#a9a9a9"/>
<rect x="614.80" y="144.41" width="1.8" height="1.8" fill="#a9a9a9"/>
<rect x="589.43" y="145.70" width="1.8" height="1.8" fill="#f26b3a"/>
<rect x="590.71" y="146.39" width="1.8" height="1.8" fill="#f26b3a"/>
<rect x="606.50" y="145.99" width="1.8" height="1.8" fill="#f26b3a"/>
<rect x="615.39" y="146.39" width="1.8" height="1.8" fill="#f26b3a"/>
<rect x="594.37" y="148.57" width="1.8" height="1.8" fill="#f26b3a"/>
<rect x="598.02" y="148.37" width="1.8" height="1.8" fill="#a9a9a9"/>
<rect x="590.12" y="149.95" width="1.8" height="1.8" fill="#f26b3a"/>
<rect x="593.28" y="149.65" width="1.8" height="1.8" fill="#f26b3a"/>
<rect x="595.45" y="150.74" width="1.8" height="1.8" fill="#f26b3a"/>
<rect x="598.02" y="150.94" width="1.8" height="1.8" fill="#f26b3a"/>
<rect x="600.98" y="150.74" width="1.8" height="1.8" fill="#f26b3a"/>
<rect x="604.23" y="150.35" width="1.8" height="1.8" fill="#a9a9a9"/>
<rect x="613.02" y="149.95" width="1.8" height="1.8" fill="#a9a9a9"/>
<rect x="597.62" y="152.52" width="1.8" height="1.8" fill="#f26b3a"/>
<rect x="608.18" y="152.92" width="1.8" height="1.8" fill="#f26b3a"/>
<rect x="591.50" y="153.91" width="1.8" height="1.8" fill="#f26b3a"/>
<rect x="602.26" y="154.70" width="1.8" height="1.8" fill="#a9a9a9"/>
<rect x="594.07" y="157.27" width="1.8" height="1.8" fill="#a9a9a9"/>
<rect x="598.31" y="156.88" width="1.8" height="1.8" fill="#a9a9a9"/>
<rect x="600.98" y="157.57" width="1.8" height="1.8" fill="#f26b3a"/>
<rect x="601.57" y="158.86" width="1.8" height="1.8" fill="#f26b3a"/>
<rect x="606.21" y="157.57" width="1.8" height="1.8" fill="#a9a9a9"/>
<rect x="597.62" y="159.94" width="1.8" height="1.8" fill="#a9a9a9"/>
<rect x="610.45" y="162.22" width="1.8" height="1.8" fill="#f26b3a"/>
<rect x="635.22" y="116.91" width="1.8" height="1.8" fill="#f26b3a"/>
<rect x="638.97" y="117.50" width="1.8" height="1.8" fill="#f26b3a"/>
<rect x="640.26" y="117.89" width="1.8" height="1.8" fill="#f26b3a"/>
<rect x="632.86" y="120.96" width="1.8" height="1.8" fill="#f26b3a"/>
<rect x="645.78" y="122.15" width="1.8" height="1.8" fill="#f26b3a"/>
<rect x="651.81" y="124.33" width="1.8" height="1.8" fill="#f26b3a"/>
<rect x="626.74" y="135.80" width="1.8" height="1.8" fill="#f26b3a"/>
<rect x="642.63" y="135.80" width="1.8" height="1.8" fill="#f26b3a"/>
<rect x="648.84" y="141.84" width="1.8" height="1.8" fill="#b54fb3"/>
<rect x="629.20" y="145.60" width="1.8" height="1.8" fill="#b54fb3"/>
<rect x="629.70" y="150.54" width="1.8" height="1.8" fill="#f26b3a"/>
<rect x="646.28" y="160.93" width="1.8" height="1.8" fill="#f26b3a"/>
<rect x="524.7" y="99.6" width="158.60" height="74.70" fill="none" stroke="#5e5e5e" stroke-width="1.1"/>
<line x1="522.3000000000001" y1="102.6" x2="524.7" y2="102.6" stroke="#5e5e5e" stroke-width="0.8"/>
<text transform="translate(521.30,102.6) rotate(-90)" text-anchor="middle" font-size="6.5" fill="#444">0.4</text>
<line x1="522.3000000000001" y1="119.68" x2="524.7" y2="119.68" stroke="#5e5e5e" stroke-width="0.8"/>
<text transform="translate(521.30,119.68) rotate(-90)" text-anchor="middle" font-size="6.5" fill="#444">0.2</text>
<line x1="522.3000000000001" y1="136.76" x2="524.7" y2="136.76" stroke="#5e5e5e" stroke-width="0.8"/>
<text transform="translate(521.30,136.76) rotate(-90)" text-anchor="middle" font-size="6.5" fill="#444">0.0</text>
<line x1="522.3000000000001" y1="153.84" x2="524.7" y2="153.84" stroke="#5e5e5e" stroke-width="0.8"/>
<text transform="translate(521.30,153.84) rotate(-90)" text-anchor="middle" font-size="6.5" fill="#444">0.2</text>
<line x1="519.00" y1="159.64" x2="519.00" y2="160.84" stroke="#555" stroke-width="0.6"/>
<line x1="522.3000000000001" y1="170.92" x2="524.7" y2="170.92" stroke="#5e5e5e" stroke-width="0.8"/>
<text transform="translate(521.30,170.92) rotate(-90)" text-anchor="middle" font-size="6.5" fill="#444">0.4</text>
<line x1="519.00" y1="176.72" x2="519.00" y2="177.92" stroke="#555" stroke-width="0.6"/>
<line x1="559.3" y1="174.3" x2="559.3" y2="176.5" stroke="#5e5e5e" stroke-width="0.8"/>
<text x="559.3" y="183.20" text-anchor="middle" font-size="6.5" fill="#444">0.5</text>
<line x1="551.80" y1="180.90" x2="553.00" y2="180.90" stroke="#555" stroke-width="0.6"/>
<line x1="602.2" y1="174.3" x2="602.2" y2="176.5" stroke="#5e5e5e" stroke-width="0.8"/>
<text x="602.2" y="183.20" text-anchor="middle" font-size="6.5" fill="#444">0.0</text>
<line x1="644.4" y1="174.3" x2="644.4" y2="176.5" stroke="#5e5e5e" stroke-width="0.8"/>
<text x="644.4" y="183.20" text-anchor="middle" font-size="6.5" fill="#444">0.5</text>
<text transform="translate(511.0,133.2) rotate(-90)" text-anchor="middle" font-size="9.3" fill="#222" textLength="30.2" lengthAdjust="spacingAndGlyphs">NMDS2</text>
<circle cx="537.8" cy="123.9" r="1.9" fill="#f26b3a"/>
<text x="542.5999999999999" y="127.00" font-size="9.6" fill="#222" textLength="23" lengthAdjust="spacingAndGlyphs">24 - 25</text>
<circle cx="537.8" cy="133.8" r="1.9" fill="#b54fb3"/>
<text x="542.5999999999999" y="136.90" font-size="9.6" fill="#222" textLength="23" lengthAdjust="spacingAndGlyphs">26 - 27</text>
<circle cx="537.8" cy="143.7" r="1.9" fill="#a9a9a9"/>
<text x="542.5999999999999" y="146.80" font-size="9.6" fill="#222" textLength="23" lengthAdjust="spacingAndGlyphs">28 - 30</text>
<text x="593.1" y="172.1" font-size="7.2" fill="#333" textLength="84.5" lengthAdjust="spacingAndGlyphs">Adonis p-value = 0.0001***</text>
<text x="495.2" y="198.8" font-size="13.8" fill="#222">d</text>
<rect x="592.15" y="192.26" width="1.8" height="1.8" fill="#f2a7a2"/>
<rect x="593.13" y="194.04" width="1.8" height="1.8" fill="#f2a7a2"/>
<rect x="582.33" y="198.31" width="1.8" height="1.8" fill="#f5a623"/>
<rect x="596.86" y="197.52" width="1.8" height="1.8" fill="#f2a7a2"/>
<rect x="600.78" y="196.13" width="1.8" height="1.8" fill="#2148a8"/>
<rect x="595.58" y="200.00" width="1.8" height="1.8" fill="#f2a7a2"/>
<rect x="600.00" y="200.69" width="1.8" height="1.8" fill="#5fba5f"/>
<rect x="590.58" y="205.65" width="1.8" height="1.8" fill="#f5a623"/>
<rect x="597.15" y="206.74" width="1.8" height="1.8" fill="#f2a7a2"/>
<rect x="600.19" y="206.74" width="1.8" height="1.8" fill="#2148a8"/>
<rect x="603.63" y="206.35" width="1.8" height="1.8" fill="#2148a8"/>
<rect x="608.04" y="207.63" width="1.8" height="1.8" fill="#2148a8"/>
<rect x="585.47" y="208.13" width="1.8" height="1.8" fill="#f2a7a2"/>
<rect x="581.35" y="211.31" width="1.8" height="1.8" fill="#e8262d"/>
<rect x="592.83" y="210.21" width="1.8" height="1.8" fill="#2148a8"/>
<rect x="596.86" y="210.81" width="1.8" height="1.8" fill="#f2a7a2"/>
<rect x="595.29" y="211.31" width="1.8" height="1.8" fill="#e8262d"/>
<rect x="594.01" y="212.59" width="1.8" height="1.8" fill="#f5a623"/>
<rect x="584.49" y="215.57" width="1.8" height="1.8" fill="#e8262d"/>
<rect x="594.21" y="217.16" width="1.8" height="1.8" fill="#e8262d"/>
<rect x="597.54" y="216.56" width="1.8" height="1.8" fill="#2148a8"/>
<rect x="599.41" y="217.16" width="1.8" height="1.8" fill="#f5a623"/>
<rect x="601.76" y="219.04" width="1.8" height="1.8" fill="#e8262d"/>
<rect x="598.03" y="219.44" width="1.8" height="1.8" fill="#e8262d"/>
<rect x="583.22" y="221.13" width="1.8" height="1.8" fill="#2148a8"/>
<rect x="594.01" y="220.53" width="1.8" height="1.8" fill="#f5a623"/>
<rect x="596.46" y="221.13" width="1.8" height="1.8" fill="#e8262d"/>
<rect x="599.41" y="221.33" width="1.8" height="1.8" fill="#e8262d"/>
<rect x="581.65" y="223.31" width="1.8" height="1.8" fill="#e8262d"/>
<rect x="593.13" y="222.91" width="1.8" height="1.8" fill="#f5a623"/>
<rect x="600.29" y="223.71" width="1.8" height="1.8" fill="#2148a8"/>
<rect x="587.73" y="224.70" width="1.8" height="1.8" fill="#f5a623"/>
<rect x="592.34" y="225.09" width="1.8" height="1.8" fill="#e8262d"/>
<rect x="603.14" y="224.50" width="1.8" height="1.8" fill="#f5a623"/>
<rect x="608.04" y="225.09" width="1.8" height="1.8" fill="#f2a7a2"/>
<rect x="611.48" y="225.09" width="1.8" height="1.8" fill="#2148a8"/>
<rect x="582.14" y="226.68" width="1.8" height="1.8" fill="#2148a8"/>
<rect x="595.78" y="226.09" width="1.8" height="1.8" fill="#e8262d"/>
<rect x="584.30" y="227.48" width="1.8" height="1.8" fill="#2148a8"/>
<rect x="597.84" y="226.19" width="1.8" height="1.8" fill="#5fba5f"/>
<rect x="600.78" y="226.88" width="1.8" height="1.8" fill="#f2a7a2"/>
<rect x="589.30" y="229.06" width="1.8" height="1.8" fill="#5fba5f"/>
<rect x="591.66" y="230.15" width="1.8" height="1.8" fill="#2148a8"/>
<rect x="596.86" y="229.06" width="1.8" height="1.8" fill="#f5a623"/>
<rect x="605.00" y="230.15" width="1.8" height="1.8" fill="#2148a8"/>
<rect x="590.38" y="231.74" width="1.8" height="1.8" fill="#2148a8"/>
<rect x="594.30" y="231.74" width="1.8" height="1.8" fill="#5fba5f"/>
<rect x="598.43" y="231.25" width="1.8" height="1.8" fill="#5fba5f"/>
<rect x="600.78" y="233.03" width="1.8" height="1.8" fill="#f2a7a2"/>
<rect x="613.54" y="232.83" width="1.8" height="1.8" fill="#f2a7a2"/>
<rect x="588.32" y="234.12" width="1.8" height="1.8" fill="#e8262d"/>
<rect x="589.59" y="234.82" width="1.8" height="1.8" fill="#f2a7a2"/>
<rect x="605.29" y="234.42" width="1.8" height="1.8" fill="#f2a7a2"/>
<rect x="614.13" y="234.82" width="1.8" height="1.8" fill="#2148a8"/>
<rect x="593.23" y="237.00" width="1.8" height="1.8" fill="#e8262d"/>
<rect x="596.86" y="236.80" width="1.8" height="1.8" fill="#2148a8"/>
<rect x="589.01" y="238.39" width="1.8" height="1.8" fill="#e8262d"/>
<rect x="592.15" y="238.09" width="1.8" height="1.8" fill="#2148a8"/>
<rect x="594.30" y="239.18" width="1.8" height="1.8" fill="#5fba5f"/>
<rect x="596.86" y="239.38" width="1.8" height="1.8" fill="#2148a8"/>
<rect x="599.80" y="239.18" width="1.8" height="1.8" fill="#2148a8"/>
<rect x="603.04" y="238.79" width="1.8" height="1.8" fill="#f2a7a2"/>
<rect x="611.77" y="238.39" width="1.8" height="1.8" fill="#f2a7a2"/>
<rect x="596.46" y="240.97" width="1.8" height="1.8" fill="#f5a623"/>
<rect x="606.96" y="241.36" width="1.8" height="1.8" fill="#e8262d"/>
<rect x="590.38" y="242.36" width="1.8" height="1.8" fill="#5fba5f"/>
<rect x="601.08" y="243.15" width="1.8" height="1.8" fill="#f2a7a2"/>
<rect x="592.93" y="245.73" width="1.8" height="1.8" fill="#2148a8"/>
<rect x="597.15" y="245.33" width="1.8" height="1.8" fill="#e8262d"/>
<rect x="599.80" y="246.03" width="1.8" height="1.8" fill="#5fba5f"/>
<rect x="600.39" y="247.32" width="1.8" height="1.8" fill="#e8262d"/>
<rect x="605.00" y="246.03" width="1.8" height="1.8" fill="#2148a8"/>
<rect x="596.46" y="248.41" width="1.8" height="1.8" fill="#2148a8"/>
<rect x="609.22" y="250.69" width="1.8" height="1.8" fill="#e8262d"/>
<rect x="633.85" y="205.25" width="1.8" height="1.8" fill="#f5a623"/>
<rect x="637.58" y="205.85" width="1.8" height="1.8" fill="#5fba5f"/>
<rect x="638.85" y="206.25" width="1.8" height="1.8" fill="#f5a623"/>
<rect x="631.49" y="209.32" width="1.8" height="1.8" fill="#f2a7a2"/>
<rect x="644.35" y="210.51" width="1.8" height="1.8" fill="#f2a7a2"/>
<rect x="650.33" y="212.69" width="1.8" height="1.8" fill="#2148a8"/>
<rect x="625.41" y="224.20" width="1.8" height="1.8" fill="#2148a8"/>
<rect x="641.21" y="224.20" width="1.8" height="1.8" fill="#2148a8"/>
<rect x="647.39" y="230.25" width="1.8" height="1.8" fill="#f2a7a2"/>
<rect x="627.86" y="234.02" width="1.8" height="1.8" fill="#f2a7a2"/>
<rect x="628.35" y="238.98" width="1.8" height="1.8" fill="#2148a8"/>
<rect x="644.84" y="249.40" width="1.8" height="1.8" fill="#f5a623"/>
<rect x="524.2" y="187.3" width="160.00" height="74.90" fill="none" stroke="#5e5e5e" stroke-width="1.1"/>
<line x1="521.8000000000001" y1="191.1" x2="524.2" y2="191.1" stroke="#5e5e5e" stroke-width="0.8"/>
<text transform="translate(520.80,191.1) rotate(-90)" text-anchor="middle" font-size="6.5" fill="#444">0.4</text>
<line x1="521.8000000000001" y1="207.63" x2="524.2" y2="207.63" stroke="#5e5e5e" stroke-width="0.8"/>
<text transform="translate(520.80,207.63) rotate(-90)" text-anchor="middle" font-size="6.5" fill="#444">0.2</text>
<line x1="521.8000000000001" y1="224.16" x2="524.2" y2="224.16" stroke="#5e5e5e" stroke-width="0.8"/>
<text transform="translate(520.80,224.16) rotate(-90)" text-anchor="middle" font-size="6.5" fill="#444">0.0</text>
<line x1="521.8000000000001" y1="240.69" x2="524.2" y2="240.69" stroke="#5e5e5e" stroke-width="0.8"/>
<text transform="translate(520.80,240.69) rotate(-90)" text-anchor="middle" font-size="6.5" fill="#444">0.2</text>
<line x1="518.50" y1="246.49" x2="518.50" y2="247.69" stroke="#555" stroke-width="0.6"/>
<line x1="521.8000000000001" y1="257.22" x2="524.2" y2="257.22" stroke="#5e5e5e" stroke-width="0.8"/>
<text transform="translate(520.80,257.22) rotate(-90)" text-anchor="middle" font-size="6.5" fill="#444">0.4</text>
<line x1="518.50" y1="263.02" x2="518.50" y2="264.22" stroke="#555" stroke-width="0.6"/>
<line x1="563.2" y1="262.2" x2="563.2" y2="264.4" stroke="#5e5e5e" stroke-width="0.8"/>
<text x="563.2" y="271.50" text-anchor="middle" font-size="6.5" fill="#444">0.5</text>
<line x1="555.70" y1="269.20" x2="556.90" y2="269.20" stroke="#555" stroke-width="0.6"/>
<line x1="604.6" y1="262.2" x2="604.6" y2="264.4" stroke="#5e5e5e" stroke-width="0.8"/>
<text x="604.6" y="271.50" text-anchor="middle" font-size="6.5" fill="#444">0.0</text>
<line x1="645.9" y1="262.2" x2="645.9" y2="264.4" stroke="#5e5e5e" stroke-width="0.8"/>
<text x="645.9" y="271.50" text-anchor="middle" font-size="6.5" fill="#444">0.5</text>
<text transform="translate(511.0,222.6) rotate(-90)" text-anchor="middle" font-size="9.3" fill="#222" textLength="30.2" lengthAdjust="spacingAndGlyphs">NMDS2</text>
<circle cx="539.6" cy="212.0" r="1.9" fill="#f2a7a2"/>
<text x="544.4" y="215.10" font-size="9.2" fill="#222" textLength="17.3" lengthAdjust="spacingAndGlyphs">1604</text>
<circle cx="539.6" cy="222.5" r="1.9" fill="#f5a623"/>
<text x="544.4" y="225.60" font-size="9.2" fill="#222" textLength="17.3" lengthAdjust="spacingAndGlyphs">1611</text>
<circle cx="539.6" cy="232.2" r="1.9" fill="#e8262d"/>
<text x="544.4" y="235.30" font-size="9.2" fill="#222" textLength="17.3" lengthAdjust="spacingAndGlyphs">1605</text>
<circle cx="539.6" cy="241.6" r="1.9" fill="#2148a8"/>
<text x="544.4" y="244.70" font-size="9.2" fill="#222" textLength="17.3" lengthAdjust="spacingAndGlyphs">1602</text>
<circle cx="539.6" cy="250.7" r="1.9" fill="#5fba5f"/>
<text x="544.4" y="253.80" font-size="9.2" fill="#222" textLength="17.3" lengthAdjust="spacingAndGlyphs">1607</text>
<text x="602" y="260.2" font-size="7.2" fill="#333" textLength="77.2" lengthAdjust="spacingAndGlyphs">Adonis p-value = 0.002**</text>
<text x="493.3" y="282.0" font-size="13.8" fill="#222">e</text>
<rect x="592.71" y="278.61" width="1.8" height="1.8" fill="#3dba74"/>
<rect x="593.71" y="280.41" width="1.8" height="1.8" fill="#3dba74"/>
<rect x="582.72" y="284.72" width="1.8" height="1.8" fill="#3dba74"/>
<rect x="597.51" y="283.91" width="1.8" height="1.8" fill="#3dba74"/>
<rect x="601.50" y="282.51" width="1.8" height="1.8" fill="#3dba74"/>
<rect x="596.21" y="286.42" width="1.8" height="1.8" fill="#3dba74"/>
<rect x="600.70" y="287.12" width="1.8" height="1.8" fill="#3dba74"/>
<rect x="591.11" y="292.12" width="1.8" height="1.8" fill="#3dba74"/>
<rect x="597.81" y="293.23" width="1.8" height="1.8" fill="#3dba74"/>
<rect x="600.90" y="293.23" width="1.8" height="1.8" fill="#3dba74"/>
<rect x="604.40" y="292.83" width="1.8" height="1.8" fill="#3dba74"/>
<rect x="608.89" y="294.13" width="1.8" height="1.8" fill="#f5a45a"/>
<rect x="585.92" y="294.63" width="1.8" height="1.8" fill="#f5a45a"/>
<rect x="581.73" y="297.83" width="1.8" height="1.8" fill="#3dba74"/>
<rect x="593.41" y="296.73" width="1.8" height="1.8" fill="#3dba74"/>
<rect x="597.51" y="297.33" width="1.8" height="1.8" fill="#3dba74"/>
<rect x="595.91" y="297.83" width="1.8" height="1.8" fill="#3dba74"/>
<rect x="594.61" y="299.13" width="1.8" height="1.8" fill="#3dba74"/>
<rect x="584.92" y="302.14" width="1.8" height="1.8" fill="#3dba74"/>
<rect x="594.81" y="303.74" width="1.8" height="1.8" fill="#3dba74"/>
<rect x="598.21" y="303.14" width="1.8" height="1.8" fill="#f5a45a"/>
<rect x="600.10" y="303.74" width="1.8" height="1.8" fill="#3dba74"/>
<rect x="602.50" y="305.64" width="1.8" height="1.8" fill="#f5a45a"/>
<rect x="598.70" y="306.04" width="1.8" height="1.8" fill="#3dba74"/>
<rect x="583.62" y="307.75" width="1.8" height="1.8" fill="#3dba74"/>
<rect x="594.61" y="307.14" width="1.8" height="1.8" fill="#3dba74"/>
<rect x="597.11" y="307.75" width="1.8" height="1.8" fill="#3dba74"/>
<rect x="600.10" y="307.95" width="1.8" height="1.8" fill="#3dba74"/>
<rect x="582.03" y="309.95" width="1.8" height="1.8" fill="#3dba74"/>
<rect x="593.71" y="309.55" width="1.8" height="1.8" fill="#3dba74"/>
<rect x="601.00" y="310.35" width="1.8" height="1.8" fill="#3dba74"/>
<rect x="588.22" y="311.35" width="1.8" height="1.8" fill="#3dba74"/>
<rect x="592.91" y="311.75" width="1.8" height="1.8" fill="#3dba74"/>
<rect x="603.90" y="311.15" width="1.8" height="1.8" fill="#3dba74"/>
<rect x="608.89" y="311.75" width="1.8" height="1.8" fill="#3dba74"/>
<rect x="612.39" y="311.75" width="1.8" height="1.8" fill="#3dba74"/>
<rect x="582.53" y="313.35" width="1.8" height="1.8" fill="#3dba74"/>
<rect x="596.41" y="312.75" width="1.8" height="1.8" fill="#3dba74"/>
<rect x="584.72" y="314.15" width="1.8" height="1.8" fill="#3dba74"/>
<rect x="598.51" y="312.85" width="1.8" height="1.8" fill="#3dba74"/>
<rect x="601.50" y="313.55" width="1.8" height="1.8" fill="#3dba74"/>
<rect x="589.82" y="315.76" width="1.8" height="1.8" fill="#3dba74"/>
<rect x="592.21" y="316.86" width="1.8" height="1.8" fill="#3dba74"/>
<rect x="597.51" y="315.76" width="1.8" height="1.8" fill="#3dba74"/>
<rect x="605.80" y="316.86" width="1.8" height="1.8" fill="#f5a45a"/>
<rect x="590.91" y="318.46" width="1.8" height="1.8" fill="#3dba74"/>
<rect x="594.91" y="318.46" width="1.8" height="1.8" fill="#3dba74"/>
<rect x="599.10" y="317.96" width="1.8" height="1.8" fill="#3dba74"/>
<rect x="601.50" y="319.76" width="1.8" height="1.8" fill="#3dba74"/>
<rect x="614.49" y="319.56" width="1.8" height="1.8" fill="#3dba74"/>
<rect x="588.82" y="320.86" width="1.8" height="1.8" fill="#3dba74"/>
<rect x="590.12" y="321.56" width="1.8" height="1.8" fill="#3dba74"/>
<rect x="606.10" y="321.16" width="1.8" height="1.8" fill="#3dba74"/>
<rect x="615.08" y="321.56" width="1.8" height="1.8" fill="#3dba74"/>
<rect x="593.81" y="323.77" width="1.8" height="1.8" fill="#3dba74"/>
<rect x="597.51" y="323.57" width="1.8" height="1.8" fill="#3dba74"/>
<rect x="589.52" y="325.17" width="1.8" height="1.8" fill="#3dba74"/>
<rect x="592.71" y="324.87" width="1.8" height="1.8" fill="#3dba74"/>
<rect x="594.91" y="325.97" width="1.8" height="1.8" fill="#3dba74"/>
<rect x="597.51" y="326.17" width="1.8" height="1.8" fill="#3dba74"/>
<rect x="600.50" y="325.97" width="1.8" height="1.8" fill="#3dba74"/>
<rect x="603.80" y="325.57" width="1.8" height="1.8" fill="#3dba74"/>
<rect x="612.69" y="325.17" width="1.8" height="1.8" fill="#3dba74"/>
<rect x="597.11" y="327.77" width="1.8" height="1.8" fill="#3dba74"/>
<rect x="607.79" y="328.17" width="1.8" height="1.8" fill="#3dba74"/>
<rect x="590.91" y="329.17" width="1.8" height="1.8" fill="#3dba74"/>
<rect x="601.80" y="329.97" width="1.8" height="1.8" fill="#3dba74"/>
<rect x="593.51" y="332.58" width="1.8" height="1.8" fill="#3dba74"/>
<rect x="597.81" y="332.18" width="1.8" height="1.8" fill="#3dba74"/>
<rect x="600.50" y="332.88" width="1.8" height="1.8" fill="#3dba74"/>
<rect x="601.10" y="334.18" width="1.8" height="1.8" fill="#3dba74"/>
<rect x="605.80" y="332.88" width="1.8" height="1.8" fill="#3dba74"/>
<rect x="597.11" y="335.28" width="1.8" height="1.8" fill="#3dba74"/>
<rect x="610.09" y="337.59" width="1.8" height="1.8" fill="#3dba74"/>
<rect x="635.16" y="291.72" width="1.8" height="1.8" fill="#3dba74"/>
<rect x="638.95" y="292.33" width="1.8" height="1.8" fill="#3dba74"/>
<rect x="640.25" y="292.73" width="1.8" height="1.8" fill="#f5a45a"/>
<rect x="632.76" y="295.83" width="1.8" height="1.8" fill="#ea4a2c"/>
<rect x="645.85" y="297.03" width="1.8" height="1.8" fill="#ea4a2c"/>
<rect x="651.94" y="299.23" width="1.8" height="1.8" fill="#ea4a2c"/>
<rect x="626.57" y="310.85" width="1.8" height="1.8" fill="#f5a45a"/>
<rect x="642.65" y="310.85" width="1.8" height="1.8" fill="#3dba74"/>
<rect x="648.94" y="316.96" width="1.8" height="1.8" fill="#3dba74"/>
<rect x="629.07" y="320.76" width="1.8" height="1.8" fill="#3dba74"/>
<rect x="629.57" y="325.77" width="1.8" height="1.8" fill="#3dba74"/>
<rect x="646.35" y="336.28" width="1.8" height="1.8" fill="#f5a45a"/>
<rect x="523.3" y="274.2" width="160.50" height="75.60" fill="none" stroke="#5e5e5e" stroke-width="1.1"/>
<line x1="520.9" y1="276.8" x2="523.3" y2="276.8" stroke="#5e5e5e" stroke-width="0.8"/>
<text transform="translate(518.90,276.8) rotate(-90)" text-anchor="middle" font-size="6.5" fill="#444">0.4</text>
<line x1="520.9" y1="294.5" x2="523.3" y2="294.5" stroke="#5e5e5e" stroke-width="0.8"/>
<text transform="translate(518.90,294.5) rotate(-90)" text-anchor="middle" font-size="6.5" fill="#444">0.2</text>
<line x1="520.9" y1="312.2" x2="523.3" y2="312.2" stroke="#5e5e5e" stroke-width="0.8"/>
<text transform="translate(518.90,312.2) rotate(-90)" text-anchor="middle" font-size="6.5" fill="#444">0.0</text>
<line x1="520.9" y1="329.9" x2="523.3" y2="329.9" stroke="#5e5e5e" stroke-width="0.8"/>
<text transform="translate(518.90,329.9) rotate(-90)" text-anchor="middle" font-size="6.5" fill="#444">0.2</text>
<line x1="516.60" y1="335.70" x2="516.60" y2="336.90" stroke="#555" stroke-width="0.6"/>
<line x1="520.9" y1="347.6" x2="523.3" y2="347.6" stroke="#5e5e5e" stroke-width="0.8"/>
<text transform="translate(518.90,347.6) rotate(-90)" text-anchor="middle" font-size="6.5" fill="#444">0.4</text>
<line x1="516.60" y1="353.40" x2="516.60" y2="354.60" stroke="#555" stroke-width="0.6"/>
<line x1="563.7" y1="349.8" x2="563.7" y2="352.0" stroke="#5e5e5e" stroke-width="0.8"/>
<text x="563.7" y="361.10" text-anchor="middle" font-size="6.5" fill="#444">0.5</text>
<line x1="556.20" y1="358.80" x2="557.40" y2="358.80" stroke="#555" stroke-width="0.6"/>
<line x1="605.4" y1="349.8" x2="605.4" y2="352.0" stroke="#5e5e5e" stroke-width="0.8"/>
<text x="605.4" y="361.10" text-anchor="middle" font-size="6.5" fill="#444">0.0</text>
<line x1="646.7" y1="349.8" x2="646.7" y2="352.0" stroke="#5e5e5e" stroke-width="0.8"/>
<text x="646.7" y="361.10" text-anchor="middle" font-size="6.5" fill="#444">0.5</text>
<text transform="translate(507.5,314.3) rotate(-90)" text-anchor="middle" font-size="9.3" fill="#222" textLength="30.2" lengthAdjust="spacingAndGlyphs">NMDS2</text>
<circle cx="534" cy="300.3" r="1.9" fill="#3dba74"/>
<text x="538.8" y="303.40" font-size="9.2" fill="#222" textLength="39.5" lengthAdjust="spacingAndGlyphs">no diarrhea</text>
<circle cx="534" cy="311" r="1.9" fill="#f5a45a"/>
<text x="538.8" y="314.10" font-size="9.2" fill="#222" textLength="44.4" lengthAdjust="spacingAndGlyphs">intermediate</text>
<circle cx="534" cy="321.4" r="1.9" fill="#ea4a2c"/>
<text x="538.8" y="324.50" font-size="9.2" fill="#222" textLength="30.5" lengthAdjust="spacingAndGlyphs">diarrhea</text>
<text x="591.7" y="348.9" font-size="7.2" fill="#333" textLength="84" lengthAdjust="spacingAndGlyphs">Adonis p-value = 0.0001***</text>
<ellipse cx="641.8" cy="314.8" rx="18.6" ry="27.5" fill="none" stroke="#e8303a" stroke-width="1" stroke-dasharray="3,2"/>
<text x="590.2" y="375.6" font-size="11" fill="#222" textLength="31" lengthAdjust="spacingAndGlyphs">NMDS1</text>
</svg></body></html>
